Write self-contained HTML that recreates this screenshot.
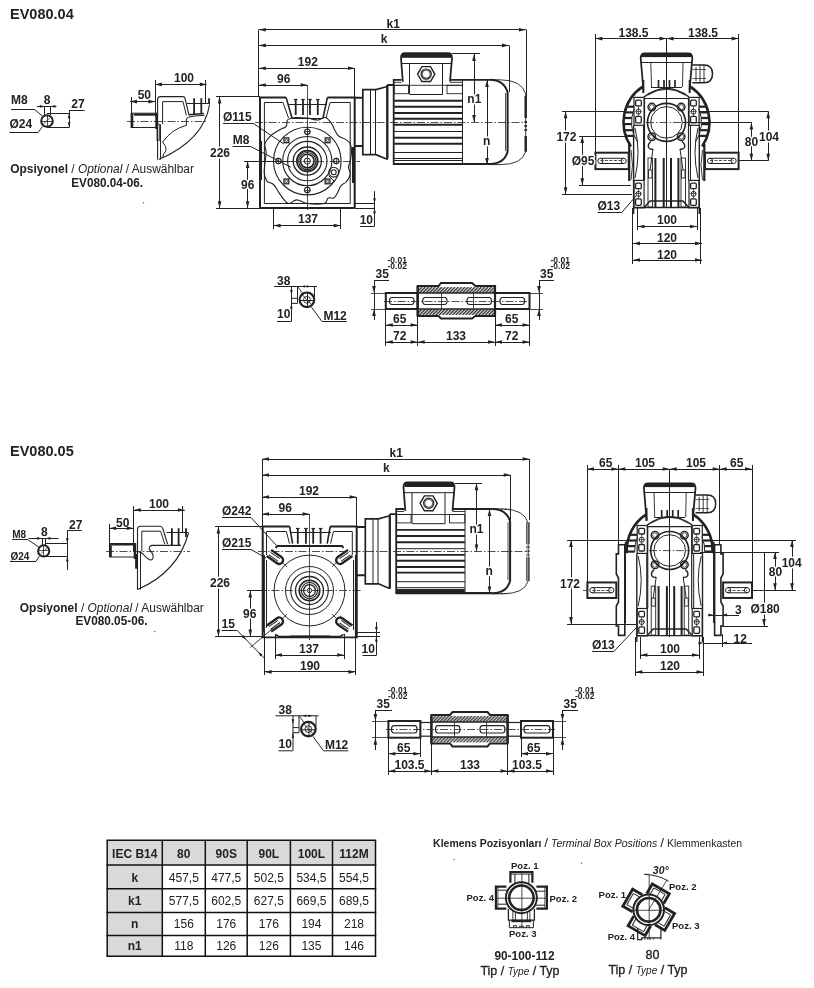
<!DOCTYPE html><html><head><meta charset="utf-8"><style>html,body{margin:0;padding:0;background:#fff;width:814px;height:988px;overflow:hidden}svg{display:block;will-change:transform}text{font-family:"Liberation Sans",sans-serif;fill:#222}</style></head><body>
<svg width="814" height="988" viewBox="0 0 814 988">
<text x="10" y="19" font-size="14.5" font-weight="bold" font-style="normal" text-anchor="start" >EV080.04</text>
<text x="10" y="455.8" font-size="14.5" font-weight="bold" font-style="normal" text-anchor="start" >EV080.05</text>
<text x="11.1" y="104.4" font-size="12" font-weight="bold" font-style="normal" text-anchor="start" >M8</text>
<text x="43.8" y="104.4" font-size="12" font-weight="bold" font-style="normal" text-anchor="start" >8</text>
<text x="71.3" y="107.7" font-size="12" font-weight="bold" font-style="normal" text-anchor="start" >27</text>
<text x="9.4" y="128.1" font-size="12" font-weight="bold" font-style="normal" text-anchor="start" >Ø24</text>
<circle cx="47" cy="121" r="5.8" stroke="#222" stroke-width="2" fill="none" />
<line x1="42" y1="121.5" x2="52" y2="121.5" stroke="#222" stroke-width="0.8" />
<line x1="47.5" y1="115.5" x2="47.5" y2="126.5" stroke="#222" stroke-width="0.8" />
<line x1="43.5" y1="124" x2="50.5" y2="117.5" stroke="#222" stroke-width="0.7" />
<line x1="11.1" y1="109.5" x2="34.9" y2="109.5" stroke="#222" stroke-width="1" />
<line x1="34.9" y1="109.9" x2="43.1" y2="116.5" stroke="#222" stroke-width="1" />
<line x1="9.4" y1="132.5" x2="38.2" y2="132.5" stroke="#222" stroke-width="1" />
<line x1="38.2" y1="132.3" x2="42.6" y2="126.5" stroke="#222" stroke-width="1" />
<line x1="37" y1="106.5" x2="56.4" y2="106.5" stroke="#222" stroke-width="1" />
<path d="M44.80,106.40 L39.80,107.80 L39.80,105.00 Z" fill="#222"/>
<path d="M50.30,106.40 L55.30,105.00 L55.30,107.80 Z" fill="#222"/>
<line x1="44.5" y1="106.4" x2="44.5" y2="115" stroke="#222" stroke-width="1" />
<line x1="50.5" y1="106.4" x2="50.5" y2="115" stroke="#222" stroke-width="1" />
<line x1="47" y1="113.5" x2="69.1" y2="113.5" stroke="#222" stroke-width="1" />
<line x1="47" y1="127.5" x2="69.1" y2="127.5" stroke="#222" stroke-width="1" />
<line x1="69.1" y1="110.5" x2="84.6" y2="110.5" stroke="#222" stroke-width="1" />
<line x1="69.5" y1="110.2" x2="69.5" y2="127.6" stroke="#222" stroke-width="1" />
<path d="M69.10,113.20 L70.50,118.20 L67.70,118.20 Z" fill="#222"/>
<path d="M69.10,127.30 L67.70,122.30 L70.50,122.30 Z" fill="#222"/>
<text x="174" y="81.8" font-size="12" font-weight="bold" font-style="normal" text-anchor="start" >100</text>
<text x="137.7" y="98.7" font-size="12" font-weight="bold" font-style="normal" text-anchor="start" >50</text>
<line x1="154.9" y1="84.5" x2="206.8" y2="84.5" stroke="#222" stroke-width="1" />
<path d="M154.90,84.40 L161.90,82.60 L161.90,86.20 Z" fill="#222"/>
<path d="M206.80,84.40 L199.80,86.20 L199.80,82.60 Z" fill="#222"/>
<line x1="130" y1="101.5" x2="155.4" y2="101.5" stroke="#222" stroke-width="1" />
<path d="M130.00,101.60 L137.00,99.80 L137.00,103.40 Z" fill="#222"/>
<path d="M155.40,101.60 L148.40,103.40 L148.40,99.80 Z" fill="#222"/>
<line x1="155.5" y1="80" x2="155.5" y2="117" stroke="#222" stroke-width="1.0" />
<line x1="205.5" y1="80" x2="205.5" y2="104" stroke="#222" stroke-width="1.0" />
<line x1="131.5" y1="97" x2="131.5" y2="115" stroke="#222" stroke-width="1.0" />
<rect x="131.1" y="113.2" width="25.4" height="14.3" stroke="#222" stroke-width="1" fill="none" />
<line x1="134" y1="114.6" x2="155" y2="114.6" stroke="#222" stroke-width="2.2" />
<line x1="132.2" y1="113.5" x2="132.2" y2="127.5" stroke="#222" stroke-width="2.2" />
<line x1="156.5" y1="113" x2="156.5" y2="129" stroke="#222" stroke-width="2.4" />
<line x1="127" y1="121.5" x2="206" y2="121.5" stroke="#222" stroke-width="0.8" stroke-dasharray="8,2,1.5,2"/>
<path d="M157.6,159.6 L157.6,99.6 Q157.6,96.6 160.6,96.6 L183.2,96.6 Q184.5,96.6 185,98.5 L189.1,115.4" stroke="#222" stroke-width="1.1" fill="none" />
<path d="M162.6,124 L162.6,101.6 L183,101.6 L186.4,115.4" stroke="#222" stroke-width="1.0" fill="none" />
<path d="M209.6,104.3 Q204,140 158.7,159.6" stroke="#222" stroke-width="1.1" fill="none" />
<path d="M204.6,115.4 Q195,115.5 189,117 Q186.4,118 186.4,119 L186.4,125.3 Q172,129 162.6,142 Q167,147 166,150.8 Q163,154 162.6,157.4" stroke="#222" stroke-width="1.0" fill="none" />
<line x1="194.1" y1="98.2" x2="194.1" y2="114.3" stroke="#222" stroke-width="1.8" />
<line x1="201.3" y1="98.2" x2="201.3" y2="114.3" stroke="#222" stroke-width="1.8" />
<line x1="209" y1="98.2" x2="209" y2="104" stroke="#222" stroke-width="1.8" />
<line x1="187" y1="103.5" x2="209" y2="103.5" stroke="#222" stroke-width="1.0" />
<line x1="189" y1="114.8" x2="204" y2="113.5" stroke="#222" stroke-width="1.6" />
<rect x="157" y="124.2" width="2.3" height="16.1" stroke="#222" stroke-width="0.9" fill="none" />
<line x1="160.5" y1="124.2" x2="160.5" y2="159.6" stroke="#222" stroke-width="1.0" />
<text x="10.3" y="173" font-size="12.3" font-weight="normal" font-style="normal" text-anchor="start" textLength="183.7" lengthAdjust="spacingAndGlyphs"><tspan font-weight="bold">Opsiyonel</tspan> / <tspan font-style="italic">Optional</tspan> / Auswählbar</text>
<text x="71.3" y="187" font-size="12" font-weight="bold" font-style="normal" text-anchor="start" textLength="71.7" lengthAdjust="spacingAndGlyphs">EV080.04-06.</text>
<text x="386.5" y="28" font-size="12" font-weight="bold" font-style="normal" text-anchor="start" >k1</text>
<text x="380.7" y="43" font-size="12" font-weight="bold" font-style="normal" text-anchor="start" >k</text>
<text x="297.8" y="66" font-size="12" font-weight="bold" font-style="normal" text-anchor="start" >192</text>
<text x="277" y="82.7" font-size="12" font-weight="bold" font-style="normal" text-anchor="start" >96</text>
<line x1="258.8" y1="29.5" x2="526" y2="29.5" stroke="#222" stroke-width="1" />
<path d="M258.80,29.70 L265.80,27.90 L265.80,31.50 Z" fill="#222"/>
<path d="M526.00,29.70 L519.00,31.50 L519.00,27.90 Z" fill="#222"/>
<line x1="258.8" y1="45.5" x2="509" y2="45.5" stroke="#222" stroke-width="1" />
<path d="M258.80,45.40 L265.80,43.60 L265.80,47.20 Z" fill="#222"/>
<path d="M509.00,45.40 L502.00,47.20 L502.00,43.60 Z" fill="#222"/>
<line x1="258.8" y1="68.5" x2="355" y2="68.5" stroke="#222" stroke-width="1" />
<path d="M258.80,68.20 L265.80,66.40 L265.80,70.00 Z" fill="#222"/>
<path d="M355.00,68.20 L348.00,70.00 L348.00,66.40 Z" fill="#222"/>
<line x1="258.8" y1="85.5" x2="307.6" y2="85.5" stroke="#222" stroke-width="1" />
<path d="M258.80,85.00 L265.80,83.20 L265.80,86.80 Z" fill="#222"/>
<path d="M307.60,85.00 L300.60,86.80 L300.60,83.20 Z" fill="#222"/>
<line x1="258.5" y1="29.7" x2="258.5" y2="97" stroke="#222" stroke-width="1" />
<line x1="526.5" y1="29.7" x2="526.5" y2="96" stroke="#222" stroke-width="1" />
<line x1="509.5" y1="45.4" x2="509.5" y2="92" stroke="#222" stroke-width="1" />
<line x1="354.5" y1="68.2" x2="354.5" y2="97" stroke="#222" stroke-width="1" />
<line x1="307.5" y1="85" x2="307.5" y2="210" stroke="#222" stroke-width="0.8" />
<line x1="219.5" y1="96.4" x2="219.5" y2="208.3" stroke="#222" stroke-width="1" />
<path d="M219.60,96.40 L221.40,103.40 L217.80,103.40 Z" fill="#222"/>
<path d="M219.60,208.30 L217.80,201.30 L221.40,201.30 Z" fill="#222"/>
<line x1="216" y1="96.5" x2="260" y2="96.5" stroke="#222" stroke-width="1" />
<line x1="216" y1="208.5" x2="260" y2="208.5" stroke="#222" stroke-width="1" />
<line x1="247.5" y1="160.9" x2="247.5" y2="208.3" stroke="#222" stroke-width="1" />
<path d="M247.60,160.90 L249.40,167.90 L245.80,167.90 Z" fill="#222"/>
<path d="M247.60,208.30 L245.80,201.30 L249.40,201.30 Z" fill="#222"/>
<line x1="244" y1="161.5" x2="290" y2="161.5" stroke="#222" stroke-width="1.0" />
<text x="223" y="120.5" font-size="12" font-weight="bold" font-style="normal" text-anchor="start" >Ø115</text>
<line x1="223" y1="123.5" x2="253" y2="123.5" stroke="#222" stroke-width="1" />
<line x1="253" y1="123.3" x2="283.7" y2="143.9" stroke="#222" stroke-width="1" />
<text x="232.7" y="143.6" font-size="12" font-weight="bold" font-style="normal" text-anchor="start" >M8</text>
<line x1="232.7" y1="146.5" x2="250.5" y2="146.5" stroke="#222" stroke-width="1" />
<line x1="250.5" y1="146.4" x2="290.8" y2="167.2" stroke="#222" stroke-width="1" />
<text x="298" y="223.4" font-size="12" font-weight="bold" font-style="normal" text-anchor="start" >137</text>
<line x1="273.6" y1="225.5" x2="340.7" y2="225.5" stroke="#222" stroke-width="1" />
<path d="M273.60,225.60 L280.60,223.80 L280.60,227.40 Z" fill="#222"/>
<path d="M340.70,225.60 L333.70,227.40 L333.70,223.80 Z" fill="#222"/>
<line x1="273.5" y1="208" x2="273.5" y2="229" stroke="#222" stroke-width="1" />
<line x1="340.5" y1="208" x2="340.5" y2="229" stroke="#222" stroke-width="1" />
<text x="359.7" y="223.9" font-size="12" font-weight="bold" font-style="normal" text-anchor="start" >10</text>
<line x1="360" y1="226.5" x2="374.5" y2="226.5" stroke="#222" stroke-width="1" />
<line x1="374.5" y1="191.2" x2="374.5" y2="226.4" stroke="#222" stroke-width="1" />
<path d="M374.50,203.20 L373.10,198.20 L375.90,198.20 Z" fill="#222"/>
<path d="M374.50,208.20 L375.90,213.20 L373.10,213.20 Z" fill="#222"/>
<line x1="355" y1="203.5" x2="374.5" y2="203.5" stroke="#222" stroke-width="1" />
<line x1="355" y1="208.5" x2="374.5" y2="208.5" stroke="#222" stroke-width="1" />
<path d="M260,208 L260,97.4 L286.1,97.4 M327.4,97.4 L354.7,97.4 L354.7,208" stroke="#222" stroke-width="2" fill="none" />
<path d="M260,208 L354.7,208" stroke="#222" stroke-width="2.2" fill="none" />
<path d="M286.1,97.4 L292,118 M327.4,97.4 L323,118" stroke="#222" stroke-width="1.6" fill="none" />
<path d="M283,102.5 L288.5,118 M330,102.5 L326,118" stroke="#222" stroke-width="1.0" fill="none" />
<path d="M264.4,203.5 L264.4,102.5 L283,102.5 M330,102.5 L350.2,102.5 L350.2,203.5 L264.4,203.5" stroke="#222" stroke-width="1.0" fill="none" />
<line x1="295.7" y1="99" x2="295.7" y2="115" stroke="#222" stroke-width="1.8" />
<line x1="293.9" y1="99.5" x2="297.5" y2="99.5" stroke="#222" stroke-width="1.2" />
<line x1="303" y1="99" x2="303" y2="115" stroke="#222" stroke-width="1.8" />
<line x1="301.2" y1="99.5" x2="304.8" y2="99.5" stroke="#222" stroke-width="1.2" />
<line x1="310" y1="99" x2="310" y2="115" stroke="#222" stroke-width="1.8" />
<line x1="308.2" y1="99.5" x2="311.8" y2="99.5" stroke="#222" stroke-width="1.2" />
<line x1="317.8" y1="99" x2="317.8" y2="115" stroke="#222" stroke-width="1.8" />
<line x1="316.0" y1="99.5" x2="319.6" y2="99.5" stroke="#222" stroke-width="1.2" />
<line x1="288" y1="104.5" x2="327" y2="104.5" stroke="#222" stroke-width="1.2" />
<line x1="292" y1="118.5" x2="323" y2="118.5" stroke="#222" stroke-width="1.0" />
<line x1="255" y1="122.5" x2="527" y2="122.5" stroke="#222" stroke-width="0.8" stroke-dasharray="8,2,1.5,2"/>
<line x1="262" y1="161.5" x2="360" y2="161.5" stroke="#222" stroke-width="0.8" stroke-dasharray="8,2,1.5,2"/>
<circle cx="307.3" cy="161.1" r="33.8" stroke="#222" stroke-width="1.1" fill="none" />
<circle cx="307.3" cy="161.1" r="24.6" stroke="#222" stroke-width="1.1" fill="none" />
<circle cx="307.3" cy="161.1" r="19.7" stroke="#222" stroke-width="1.1" fill="none" />
<circle cx="307.3" cy="161.1" r="14.1" stroke="#222" stroke-width="1.3" fill="none" />
<circle cx="307.3" cy="161.1" r="10.4" stroke="#222" stroke-width="1.8" fill="none" />
<circle cx="307.3" cy="161.1" r="8.6" stroke="#222" stroke-width="1.1" fill="none" />
<circle cx="307.3" cy="161.1" r="6.8" stroke="#222" stroke-width="1.6" fill="none" />
<circle cx="307.3" cy="161.1" r="3.1" stroke="#222" stroke-width="1" fill="none" />
<circle cx="307.3" cy="131.7" r="2.7" stroke="#222" stroke-width="1.1" fill="none" />
<line x1="303.8" y1="131.5" x2="310.8" y2="131.5" stroke="#222" stroke-width="0.7" />
<line x1="307.5" y1="128.2" x2="307.5" y2="135.2" stroke="#222" stroke-width="0.7" />
<circle cx="278.4" cy="161.1" r="2.7" stroke="#222" stroke-width="1.1" fill="none" />
<line x1="274.9" y1="161.5" x2="281.9" y2="161.5" stroke="#222" stroke-width="0.7" />
<line x1="278.5" y1="157.6" x2="278.5" y2="164.6" stroke="#222" stroke-width="0.7" />
<circle cx="336.2" cy="161.1" r="2.7" stroke="#222" stroke-width="1.1" fill="none" />
<line x1="332.7" y1="161.5" x2="339.7" y2="161.5" stroke="#222" stroke-width="0.7" />
<line x1="336.5" y1="157.6" x2="336.5" y2="164.6" stroke="#222" stroke-width="0.7" />
<circle cx="307.3" cy="190" r="2.7" stroke="#222" stroke-width="1.1" fill="none" />
<line x1="303.8" y1="190.5" x2="310.8" y2="190.5" stroke="#222" stroke-width="0.7" />
<line x1="307.5" y1="186.5" x2="307.5" y2="193.5" stroke="#222" stroke-width="0.7" />
<rect x="284.0" y="137.9" width="4.8" height="4.8" stroke="#222" stroke-width="1.3" fill="none" />
<circle cx="286.4" cy="140.3" r="1.2" stroke="#222" stroke-width="0.8" fill="none" />
<rect x="325.20000000000005" y="137.9" width="4.8" height="4.8" stroke="#222" stroke-width="1.3" fill="none" />
<circle cx="327.6" cy="140.3" r="1.2" stroke="#222" stroke-width="0.8" fill="none" />
<rect x="284.0" y="179.0" width="4.8" height="4.8" stroke="#222" stroke-width="1.3" fill="none" />
<circle cx="286.4" cy="181.4" r="1.2" stroke="#222" stroke-width="0.8" fill="none" />
<rect x="325.20000000000005" y="179.0" width="4.8" height="4.8" stroke="#222" stroke-width="1.3" fill="none" />
<circle cx="327.6" cy="181.4" r="1.2" stroke="#222" stroke-width="0.8" fill="none" />
<circle cx="333.7" cy="172.2" r="4.9" stroke="#222" stroke-width="1.1" fill="none" />
<circle cx="333.7" cy="172.2" r="2.5" stroke="#222" stroke-width="1.1" fill="none" />
<path d="M328.5,175.5 L334,181 L331,184" stroke="#222" stroke-width="1" fill="none" />
<path d="M288.26,119.37 C289.98,118.51 291.82,117.78 295.63,117.53 C299.44,117.28 302.88,117.65 307.30,118.14 C311.72,118.63 314.18,120.11 317.74,119.99 C321.30,119.87 322.41,116.92 325.11,117.53 C327.81,118.14 329.28,120.48 331.25,123.06 C333.22,125.64 333.47,127.85 334.94,130.43 C336.41,133.01 336.41,134.12 338.62,135.96 C340.83,137.80 343.67,138.04 346.00,139.64 C348.33,141.24 349.19,141.61 350.29,143.94 C351.39,146.27 351.52,147.87 351.52,151.31 C351.52,154.75 350.90,157.95 350.29,161.14 C349.68,164.33 348.45,164.58 348.45,167.28 C348.45,169.98 350.78,171.70 350.29,174.65 C349.80,177.60 347.84,179.81 346.00,182.02 C344.16,184.23 342.80,183.50 341.08,185.71 C339.36,187.92 338.87,190.62 337.40,193.08 C335.93,195.54 335.55,197.02 333.71,198.00 C331.87,198.98 330.15,196.90 328.18,198.00 C326.21,199.10 328.06,202.42 323.88,203.52 C319.70,204.62 312.70,204.26 307.30,203.52 C301.90,202.78 300.42,199.84 296.86,199.84 C293.30,199.84 291.94,203.40 289.48,203.52 C287.02,203.64 286.78,202.78 284.57,200.45 C282.36,198.12 280.64,195.04 278.43,191.85 C276.22,188.66 275.84,186.69 273.51,184.48 C271.18,182.27 268.60,183.01 266.76,180.80 C264.92,178.59 264.67,176.87 264.30,173.43 C263.93,169.99 264.54,167.78 264.91,163.60 C265.28,159.42 266.14,156.47 266.14,152.54 C266.14,148.61 264.17,147.13 264.91,143.94 C265.65,140.75 267.13,139.27 269.83,136.57 C272.53,133.87 275.24,132.40 278.43,130.43 C281.62,128.46 284.08,128.46 285.80,126.74 C287.52,125.02 286.54,123.30 287.03,121.83 C287.52,120.36 286.54,120.23 288.26,119.37 Z" stroke="#222" stroke-width="1.1" fill="none" />
<line x1="261" y1="141" x2="261" y2="180" stroke="#222" stroke-width="2" />
<line x1="353" y1="147" x2="353" y2="183" stroke="#222" stroke-width="2" />
<g transform="translate(0,0)">
<path d="M354.5,97.75 L362.8,97.75 M354.5,146 L362.8,146" stroke="#222" stroke-width="2" fill="none" />
<path d="M362.8,89.6 L376,89.6 L386.4,86.8 L387.3,86.8 L387.3,159 L386.4,159 L376,154.6 L362.8,154.6 Z" stroke="#222" stroke-width="1.7" fill="none" />
<line x1="370.5" y1="89.6" x2="370.5" y2="154.6" stroke="#222" stroke-width="1.0" />
<line x1="375.5" y1="89.6" x2="375.5" y2="154.6" stroke="#222" stroke-width="1.0" />
<line x1="387.3" y1="85" x2="387.3" y2="158.5" stroke="#222" stroke-width="2.2" />
<path d="M387.3,85 L393.7,85 L393.7,79.8 L401.5,79.8 M450,79.8 L490,79.8 M393.7,85 L393.7,164 L490,164" stroke="#222" stroke-width="1.8" fill="none" />
<line x1="393.7" y1="164" x2="490" y2="164" stroke="#222" stroke-width="2.2" />
<line x1="462.5" y1="80" x2="462.5" y2="164" stroke="#222" stroke-width="1" />
<line x1="394.2" y1="100.7" x2="462.4" y2="100.7" stroke="#222" stroke-width="1.9" />
<line x1="394.2" y1="106.8" x2="462.4" y2="106.8" stroke="#222" stroke-width="1.9" />
<line x1="394.2" y1="113" x2="462.4" y2="113" stroke="#222" stroke-width="1.9" />
<line x1="394.2" y1="118.8" x2="462.4" y2="118.8" stroke="#222" stroke-width="1.9" />
<line x1="394.2" y1="124.7" x2="462.4" y2="124.7" stroke="#222" stroke-width="1.9" />
<line x1="394.2" y1="137.8" x2="462.4" y2="137.8" stroke="#222" stroke-width="1.9" />
<line x1="394.2" y1="143.7" x2="462.4" y2="143.7" stroke="#222" stroke-width="1.9" />
<line x1="394.2" y1="131.5" x2="462.4" y2="131.5" stroke="#222" stroke-width="1.0" />
<path d="M394.2,85.3 L462.4,85.3 M394.2,82.3 L401.5,82.3 M450,82.3 L462.4,82.3" stroke="#222" stroke-width="0.9" fill="none" />
<rect x="394.2" y="85.3" width="14.3" height="8.4" stroke="#222" stroke-width="0.9" fill="none" />
<rect x="447" y="85.3" width="15.4" height="8.4" stroke="#222" stroke-width="0.9" fill="none" />
<line x1="394.2" y1="152.5" x2="462.4" y2="152.5" stroke="#222" stroke-width="1.0" />
<line x1="394.2" y1="158.5" x2="462.4" y2="158.5" stroke="#222" stroke-width="1.0" />
<line x1="394.2" y1="160.5" x2="462.4" y2="160.5" stroke="#222" stroke-width="1.0" />
<path d="M490,79.8 Q504,80 507.6,92.3 L507.6,151.8 Q504,164 490,164" stroke="#222" stroke-width="2" fill="none" />
<line x1="505.5" y1="93" x2="505.5" y2="151" stroke="#222" stroke-width="0.8" />
<path d="M490,79.8 L500,79.8 Q522,80 525.7,94 L525.7,151.8 Q522,164.6 500,164.6 L490,164.6" stroke="#222" stroke-width="0.9" fill="none" />
<path d="M525.7,96 L525.7,118 M525.7,136 L525.7,151.8" stroke="#222" stroke-width="2.4" fill="none" />
<path d="M525.7,121 L525.7,123 M525.7,125 L525.7,127 M525.7,129 L525.7,131" stroke="#222" stroke-width="2.4" fill="none" />
<path d="M402.8,81.7 L401,58 Q401,53.2 405,53.2 L448,53.2 Q452,53.2 452,58 L450,81.7" stroke="#222" stroke-width="1.8" fill="none" />
<rect x="402" y="53.5" width="49.5" height="4.3" stroke="#222" stroke-width="0" fill="#222" />
<line x1="401.5" y1="63.5" x2="451.5" y2="63.5" stroke="#222" stroke-width="1.0" />
<line x1="409.5" y1="63.4" x2="409.5" y2="94.4" stroke="#222" stroke-width="1.0" />
<line x1="442.5" y1="63.4" x2="442.5" y2="94.4" stroke="#222" stroke-width="1.0" />
<line x1="409.7" y1="94.5" x2="442.7" y2="94.5" stroke="#222" stroke-width="1.0" />
<polygon points="434.80,74.10 430.50,81.55 421.90,81.55 417.60,74.10 421.90,66.65 430.50,66.65" stroke="#222" stroke-width="1.4" fill="none"/>
<circle cx="426.2" cy="74.1" r="5.1" stroke="#222" stroke-width="1.2" fill="none" />
<circle cx="426.2" cy="74.1" r="4.0" stroke="#222" stroke-width="0.8" fill="none" />
</g>
<line x1="452" y1="53.5" x2="480" y2="53.5" stroke="#222" stroke-width="1" />
<line x1="474.5" y1="54" x2="474.5" y2="122" stroke="#222" stroke-width="1" />
<path d="M474.00,54.00 L475.80,61.00 L472.20,61.00 Z" fill="#222"/>
<path d="M474.00,122.00 L472.20,115.00 L475.80,115.00 Z" fill="#222"/>
<line x1="487.5" y1="80" x2="487.5" y2="165" stroke="#222" stroke-width="1" />
<path d="M487.00,80.00 L488.80,87.00 L485.20,87.00 Z" fill="#222"/>
<path d="M487.00,165.00 L485.20,158.00 L488.80,158.00 Z" fill="#222"/>
<text x="618.5" y="37" font-size="12" font-weight="bold" font-style="normal" text-anchor="start" >138.5</text>
<text x="688" y="37" font-size="12" font-weight="bold" font-style="normal" text-anchor="start" >138.5</text>
<line x1="595.4" y1="38.5" x2="666.5" y2="38.5" stroke="#222" stroke-width="1" />
<path d="M595.40,38.60 L602.40,36.80 L602.40,40.40 Z" fill="#222"/>
<path d="M666.50,38.60 L659.50,40.40 L659.50,36.80 Z" fill="#222"/>
<line x1="666.5" y1="38.5" x2="738.6" y2="38.5" stroke="#222" stroke-width="1" />
<path d="M666.50,38.60 L673.50,36.80 L673.50,40.40 Z" fill="#222"/>
<path d="M738.60,38.60 L731.60,40.40 L731.60,36.80 Z" fill="#222"/>
<line x1="595.5" y1="34" x2="595.5" y2="153" stroke="#222" stroke-width="1" />
<line x1="738.5" y1="34" x2="738.5" y2="153" stroke="#222" stroke-width="1" />
<line x1="666.5" y1="38.6" x2="666.5" y2="207.5" stroke="#222" stroke-width="1" />
<g transform="translate(0,0)">
<g transform="translate(0,0)">
<path d="M643.4,90 L640.7,58 Q640.7,53.3 645,53.3 L688,53.3 Q692.3,53.3 692.3,58 L689.6,90" stroke="#222" stroke-width="1.8" fill="none" />
<rect x="641.5" y="53.3" width="50" height="3.8" stroke="#222" stroke-width="0" fill="#222" />
<line x1="640.7" y1="62.5" x2="692.3" y2="62.5" stroke="#222" stroke-width="1.0" />
<line x1="650.8" y1="62.5" x2="651.5" y2="87" stroke="#222" stroke-width="0.9" />
<line x1="683" y1="62.5" x2="682.5" y2="87" stroke="#222" stroke-width="0.9" />
<line x1="658.5" y1="80" x2="658.5" y2="87.5" stroke="#222" stroke-width="1.7" />
<line x1="664" y1="80" x2="664" y2="87.5" stroke="#222" stroke-width="1.7" />
<line x1="669.5" y1="80" x2="669.5" y2="87.5" stroke="#222" stroke-width="1.7" />
<line x1="675" y1="80" x2="675" y2="87.5" stroke="#222" stroke-width="1.7" />
<line x1="651" y1="87.5" x2="682" y2="87.5" stroke="#222" stroke-width="1.0" />
<path d="M692.3,65 L704,65 Q712.5,65 712.5,73.8 Q712.5,82.8 704,82.8 L692.3,82.8" stroke="#222" stroke-width="1.5" fill="none" />
<path d="M696,67 L696,81 M700,65.5 L700,82.5 M704,65 L704,82.8" stroke="#222" stroke-width="0.9" fill="none" />
<line x1="692.3" y1="69.5" x2="706" y2="69.5" stroke="#222" stroke-width="0.7" />
<line x1="692.3" y1="78.5" x2="706" y2="78.5" stroke="#222" stroke-width="0.7" />
</g>
<path d="M643.08,86.34 A43,43 0 0 0 630.85,146.45" stroke="#222" stroke-width="2.6" fill="none" />
<path d="M634.28,108.72 A35,35 0 0 0 637.48,141.97" stroke="#222" stroke-width="1.0" fill="none" />
<line x1="634" y1="106.7" x2="626.4686372952406" y2="106.7" stroke="#222" stroke-width="2.2" />
<line x1="632.9589803375031" y1="112.4" x2="624.6789526673471" y2="112.4" stroke="#222" stroke-width="2.2" />
<line x1="631.7776728890473" y1="118" x2="623.7257086557825" y2="118" stroke="#222" stroke-width="2.2" />
<line x1="631.5413100931971" y1="124.1" x2="623.5336177925113" y2="124.1" stroke="#222" stroke-width="2.2" />
<line x1="632.3802110205822" y1="130.2" x2="624.2133590835119" y2="130.2" stroke="#222" stroke-width="2.2" />
<line x1="634" y1="135.9" x2="625.674150345645" y2="135.9" stroke="#222" stroke-width="2.2" />
<path d="M689.92,86.34 A43,43 0 0 1 702.15,146.45" stroke="#222" stroke-width="2.6" fill="none" />
<path d="M698.72,108.72 A35,35 0 0 1 695.52,141.97" stroke="#222" stroke-width="1.0" fill="none" />
<line x1="699" y1="106.7" x2="706.5313627047594" y2="106.7" stroke="#222" stroke-width="2.2" />
<line x1="700.0410196624969" y1="112.4" x2="708.3210473326529" y2="112.4" stroke="#222" stroke-width="2.2" />
<line x1="701.2223271109527" y1="118" x2="709.2742913442175" y2="118" stroke="#222" stroke-width="2.2" />
<line x1="701.4586899068029" y1="124.1" x2="709.4663822074887" y2="124.1" stroke="#222" stroke-width="2.2" />
<line x1="700.6197889794178" y1="130.2" x2="708.7866409164881" y2="130.2" stroke="#222" stroke-width="2.2" />
<line x1="699" y1="135.9" x2="707.325849654355" y2="135.9" stroke="#222" stroke-width="2.2" />
<path d="M644,97 Q666.5,80 689,97" stroke="#222" stroke-width="1.4" fill="none" />
<path d="M648,95 Q666.5,83.5 685,95" stroke="#222" stroke-width="0.8" fill="none" />
<line x1="643.3" y1="80" x2="643.3" y2="93" stroke="#222" stroke-width="2" />
<line x1="689.7" y1="80" x2="689.7" y2="93" stroke="#222" stroke-width="2" />
<line x1="644.6" y1="98.5" x2="688.4" y2="98.5" stroke="#222" stroke-width="1.2" />
<line x1="644.5" y1="98.2" x2="644.5" y2="180.4" stroke="#222" stroke-width="1.2" />
<line x1="688.5" y1="98.2" x2="688.5" y2="180.4" stroke="#222" stroke-width="1.2" />
<circle cx="666.5" cy="122.4" r="19" stroke="#222" stroke-width="1.6" fill="none" />
<circle cx="666.5" cy="122.4" r="15.8" stroke="#222" stroke-width="1.0" fill="none" />
<line x1="646" y1="122.5" x2="687" y2="122.5" stroke="#222" stroke-width="0.8" stroke-dasharray="8,2,1.5,2"/>
<circle cx="651.8" cy="107.1" r="3.8" stroke="#222" stroke-width="1.4" fill="none" />
<circle cx="651.8" cy="107.1" r="2.4" stroke="#222" stroke-width="0.8" fill="none" />
<circle cx="681.2" cy="107.1" r="3.8" stroke="#222" stroke-width="1.4" fill="none" />
<circle cx="681.2" cy="107.1" r="2.4" stroke="#222" stroke-width="0.8" fill="none" />
<circle cx="651.8" cy="136.7" r="3.8" stroke="#222" stroke-width="1.4" fill="none" />
<circle cx="651.8" cy="136.7" r="2.4" stroke="#222" stroke-width="0.8" fill="none" />
<circle cx="681.2" cy="136.7" r="3.8" stroke="#222" stroke-width="1.4" fill="none" />
<circle cx="681.2" cy="136.7" r="2.4" stroke="#222" stroke-width="0.8" fill="none" />
<path d="M651,141.5 Q647.5,144 648.5,147.5 Q650,150 653,149" stroke="#222" stroke-width="1.4" fill="none" />
<path d="M682,141.5 Q685.5,144 684.5,147.5 Q683,150 680,149" stroke="#222" stroke-width="1.4" fill="none" />
<line x1="653" y1="149" x2="650" y2="170" stroke="#222" stroke-width="1" />
<line x1="680" y1="149" x2="683" y2="170" stroke="#222" stroke-width="1" />
<rect x="634.0" y="97.4" width="10.1" height="27.9" stroke="#222" stroke-width="1.2" fill="none" />
<rect x="635.6" y="100.2" width="5.7" height="5.7" stroke="#222" stroke-width="1.3" fill="none" rx="1.2"/>
<rect x="635.6" y="116.4" width="5.7" height="6.5" stroke="#222" stroke-width="1.3" fill="none" rx="1.2"/>
<circle cx="638.5" cy="111.6" r="2.5" stroke="#222" stroke-width="1" fill="none" />
<line x1="635.5" y1="111.5" x2="641.5" y2="111.5" stroke="#222" stroke-width="0.7" />
<line x1="638.5" y1="106" x2="638.5" y2="116.4" stroke="#222" stroke-width="0.7" />
<rect x="634.0" y="180.4" width="10.1" height="27.4" stroke="#222" stroke-width="1.2" fill="none" />
<rect x="635.6" y="183.2" width="5.7" height="5.5" stroke="#222" stroke-width="1.3" fill="none" rx="1.2"/>
<rect x="635.6" y="198.8" width="5.7" height="6.5" stroke="#222" stroke-width="1.3" fill="none" rx="1.2"/>
<circle cx="638.5" cy="193.9" r="2.5" stroke="#222" stroke-width="1" fill="none" />
<line x1="635.5" y1="193.5" x2="641.5" y2="193.5" stroke="#222" stroke-width="0.7" />
<line x1="638.5" y1="188.7" x2="638.5" y2="198.8" stroke="#222" stroke-width="0.7" />
<rect x="689.0" y="97.4" width="10.1" height="27.9" stroke="#222" stroke-width="1.2" fill="none" />
<rect x="690.6" y="100.2" width="5.7" height="5.7" stroke="#222" stroke-width="1.3" fill="none" rx="1.2"/>
<rect x="690.6" y="116.4" width="5.7" height="6.5" stroke="#222" stroke-width="1.3" fill="none" rx="1.2"/>
<circle cx="693.5" cy="111.6" r="2.5" stroke="#222" stroke-width="1" fill="none" />
<line x1="690.5" y1="111.5" x2="696.5" y2="111.5" stroke="#222" stroke-width="0.7" />
<line x1="693.5" y1="106" x2="693.5" y2="116.4" stroke="#222" stroke-width="0.7" />
<rect x="689.0" y="180.4" width="10.1" height="27.4" stroke="#222" stroke-width="1.2" fill="none" />
<rect x="690.6" y="183.2" width="5.7" height="5.5" stroke="#222" stroke-width="1.3" fill="none" rx="1.2"/>
<rect x="690.6" y="198.8" width="5.7" height="6.5" stroke="#222" stroke-width="1.3" fill="none" rx="1.2"/>
<circle cx="693.5" cy="193.9" r="2.5" stroke="#222" stroke-width="1" fill="none" />
<line x1="690.5" y1="193.5" x2="696.5" y2="193.5" stroke="#222" stroke-width="0.7" />
<line x1="693.5" y1="188.7" x2="693.5" y2="198.8" stroke="#222" stroke-width="0.7" />
<line x1="633.6" y1="125.3" x2="633.6" y2="214" stroke="#222" stroke-width="1.4" />
<line x1="699.3" y1="125.3" x2="699.3" y2="214" stroke="#222" stroke-width="1.4" />
<line x1="643.5" y1="125.3" x2="643.5" y2="180.4" stroke="#222" stroke-width="1.0" />
<line x1="690.5" y1="125.3" x2="690.5" y2="180.4" stroke="#222" stroke-width="1.0" />
<path d="M635,128 Q641,152 635,178" stroke="#222" stroke-width="1.0" fill="none" />
<path d="M698,128 Q692,152 698,178" stroke="#222" stroke-width="1.0" fill="none" />
<line x1="655.4" y1="158" x2="655.4" y2="207" stroke="#222" stroke-width="2.0" />
<line x1="663.7" y1="158" x2="663.7" y2="207" stroke="#222" stroke-width="2.0" />
<line x1="671" y1="158" x2="671" y2="207" stroke="#222" stroke-width="2.0" />
<line x1="678.4" y1="158" x2="678.4" y2="207" stroke="#222" stroke-width="2.0" />
<rect x="648" y="158" width="4.5" height="49" stroke="#222" stroke-width="0.9" fill="none" />
<rect x="681" y="158" width="4.5" height="49" stroke="#222" stroke-width="0.9" fill="none" />
<rect x="648.5" y="170" width="3.5" height="8" stroke="#222" stroke-width="0.9" fill="none" />
<rect x="681.5" y="170" width="3.5" height="8" stroke="#222" stroke-width="0.9" fill="none" />
<path d="M644.1,207.5 L650,201 L683,201 L689,207.5" stroke="#222" stroke-width="1.5" fill="none" />
<line x1="633.6" y1="207.5" x2="699.3" y2="207.5" stroke="#222" stroke-width="1.4" />
</g>
<line x1="629.2" y1="144" x2="629.2" y2="181" stroke="#222" stroke-width="2.2" />
<line x1="704.3" y1="144" x2="704.3" y2="181" stroke="#222" stroke-width="2.2" />
<path d="M631,150 Q634,165 631,180" stroke="#222" stroke-width="0.9" fill="none" />
<path d="M702.5,150 Q699.5,165 702.5,180" stroke="#222" stroke-width="0.9" fill="none" />
<rect x="595.4" y="152.70000000000002" width="33.30000000000007" height="16.4" stroke="#222" stroke-width="2" fill="none" />
<path d="M600.4,158.3 L623.7,158.3 M600.4,163.5 L623.7,163.5" stroke="#222" stroke-width="1" fill="none" />
<circle cx="600.4" cy="160.9" r="2.6" stroke="#222" stroke-width="1" fill="none" />
<circle cx="623.7" cy="160.9" r="2.6" stroke="#222" stroke-width="1" fill="none" />
<line x1="600.4" y1="160.5" x2="623.7" y2="160.5" stroke="#222" stroke-width="0.8" stroke-dasharray="3,1.5"/>
<rect x="705" y="152.70000000000002" width="33.60000000000002" height="16.4" stroke="#222" stroke-width="2" fill="none" />
<path d="M710,158.3 L733.6,158.3 M710,163.5 L733.6,163.5" stroke="#222" stroke-width="1" fill="none" />
<circle cx="710" cy="160.9" r="2.6" stroke="#222" stroke-width="1" fill="none" />
<circle cx="733.6" cy="160.9" r="2.6" stroke="#222" stroke-width="1" fill="none" />
<line x1="710" y1="160.5" x2="733.6" y2="160.5" stroke="#222" stroke-width="0.8" stroke-dasharray="3,1.5"/>
<line x1="590" y1="160.5" x2="595.4" y2="160.5" stroke="#222" stroke-width="0.8" />
<line x1="738.6" y1="160.5" x2="742" y2="160.5" stroke="#222" stroke-width="0.8" />
<line x1="565.5" y1="111.3" x2="565.5" y2="194.2" stroke="#222" stroke-width="1" />
<path d="M565.60,111.30 L567.40,118.30 L563.80,118.30 Z" fill="#222"/>
<path d="M565.60,194.20 L563.80,187.20 L567.40,187.20 Z" fill="#222"/>
<line x1="562" y1="111.5" x2="625" y2="111.5" stroke="#222" stroke-width="1" />
<line x1="562" y1="194.5" x2="632" y2="194.5" stroke="#222" stroke-width="1" />
<line x1="582.5" y1="136" x2="582.5" y2="185.2" stroke="#222" stroke-width="1" />
<path d="M582.30,136.00 L584.10,143.00 L580.50,143.00 Z" fill="#222"/>
<path d="M582.30,185.20 L580.50,178.20 L584.10,178.20 Z" fill="#222"/>
<line x1="579" y1="136.5" x2="629" y2="136.5" stroke="#222" stroke-width="1" />
<line x1="579" y1="185.5" x2="631" y2="185.5" stroke="#222" stroke-width="1" />
<text x="597.5" y="210.4" font-size="12" font-weight="bold" font-style="normal" text-anchor="start" >Ø13</text>
<line x1="597.5" y1="212.5" x2="621.5" y2="212.5" stroke="#222" stroke-width="1" />
<line x1="621.5" y1="212.8" x2="636" y2="196" stroke="#222" stroke-width="1" />
<line x1="751.5" y1="122.4" x2="751.5" y2="160.8" stroke="#222" stroke-width="1" />
<path d="M751.40,122.40 L753.20,129.40 L749.60,129.40 Z" fill="#222"/>
<path d="M751.40,160.80 L749.60,153.80 L753.20,153.80 Z" fill="#222"/>
<line x1="768.5" y1="111.3" x2="768.5" y2="160.8" stroke="#222" stroke-width="1" />
<path d="M768.20,111.30 L770.00,118.30 L766.40,118.30 Z" fill="#222"/>
<path d="M768.20,160.80 L766.40,153.80 L770.00,153.80 Z" fill="#222"/>
<line x1="700" y1="111.5" x2="768.2" y2="111.5" stroke="#222" stroke-width="1" />
<line x1="683" y1="122.5" x2="751.4" y2="122.5" stroke="#222" stroke-width="1" />
<line x1="738.6" y1="160.5" x2="768.2" y2="160.5" stroke="#222" stroke-width="1" />
<text x="657" y="224" font-size="12" font-weight="bold" font-style="normal" text-anchor="start" >100</text>
<text x="657" y="242" font-size="12" font-weight="bold" font-style="normal" text-anchor="start" >120</text>
<text x="657" y="258.5" font-size="12" font-weight="bold" font-style="normal" text-anchor="start" >120</text>
<line x1="637.5" y1="226.5" x2="697" y2="226.5" stroke="#222" stroke-width="1" />
<path d="M637.50,226.50 L644.50,224.70 L644.50,228.30 Z" fill="#222"/>
<path d="M697.00,226.50 L690.00,228.30 L690.00,224.70 Z" fill="#222"/>
<line x1="633" y1="243.5" x2="702" y2="243.5" stroke="#222" stroke-width="1" />
<path d="M633.00,243.40 L640.00,241.60 L640.00,245.20 Z" fill="#222"/>
<path d="M702.00,243.40 L695.00,245.20 L695.00,241.60 Z" fill="#222"/>
<line x1="633" y1="260.5" x2="702" y2="260.5" stroke="#222" stroke-width="1" />
<path d="M633.00,260.00 L640.00,258.20 L640.00,261.80 Z" fill="#222"/>
<path d="M702.00,260.00 L695.00,261.80 L695.00,258.20 Z" fill="#222"/>
<line x1="637.5" y1="208" x2="637.5" y2="230" stroke="#222" stroke-width="1" />
<line x1="697.5" y1="208" x2="697.5" y2="230" stroke="#222" stroke-width="1" />
<line x1="632.5" y1="208" x2="632.5" y2="264" stroke="#222" stroke-width="1" />
<line x1="700.5" y1="208" x2="700.5" y2="264" stroke="#222" stroke-width="1" />
<g transform="translate(0,0)">
<text x="277" y="284.7" font-size="12" font-weight="bold" font-style="normal" text-anchor="start" >38</text>
<line x1="274" y1="286.5" x2="317" y2="286.5" stroke="#222" stroke-width="1" />
<line x1="291.5" y1="286.4" x2="291.5" y2="321.4" stroke="#222" stroke-width="1" />
<path d="M291.40,295.00 L290.10,290.00 L292.70,290.00 Z" fill="#222"/>
<path d="M291.40,303.50 L292.70,308.50 L290.10,308.50 Z" fill="#222"/>
<path d="M291.4,298.3 L297.5,298.3 M291.4,303.4 L297.5,303.4" stroke="#222" stroke-width="1"/>
<line x1="297.5" y1="286.4" x2="297.5" y2="303.4" stroke="#222" stroke-width="1" />
<line x1="314.5" y1="286.4" x2="314.5" y2="297" stroke="#222" stroke-width="1" />
<path d="M300.50,286.40 L305.00,285.20 L305.00,287.60 Z" fill="#222"/>
<path d="M311.20,286.40 L306.70,287.60 L306.70,285.20 Z" fill="#222"/>
<line x1="297.5" y1="286.4" x2="303" y2="293.8" stroke="#222" stroke-width="0.9" />
<circle cx="306.9" cy="299.8" r="7.3" stroke="#222" stroke-width="2.2" fill="none" />
<circle cx="306.9" cy="299.8" r="3.4" stroke="#222" stroke-width="0.9" fill="none" />
<line x1="299" y1="300.5" x2="314" y2="300.5" stroke="#222" stroke-width="1.0" />
<line x1="307.5" y1="292" x2="307.5" y2="307.5" stroke="#222" stroke-width="1.0" />
<line x1="302" y1="294.5" x2="312" y2="305" stroke="#222" stroke-width="0.8" />
<text x="277" y="318.3" font-size="12" font-weight="bold" font-style="normal" text-anchor="start" >10</text>
<line x1="277" y1="321.5" x2="291.4" y2="321.5" stroke="#222" stroke-width="1" />
<text x="323.4" y="320" font-size="12" font-weight="bold" font-style="normal" text-anchor="start" >M12</text>
<line x1="322" y1="321.5" x2="346.8" y2="321.5" stroke="#222" stroke-width="1" />
<line x1="322" y1="321.6" x2="311.4" y2="307" stroke="#222" stroke-width="1" />
</g>
<line x1="384" y1="301.5" x2="531" y2="301.5" stroke="#222" stroke-width="0.8" stroke-dasharray="8,2,1.5,2"/>
<rect x="385.8" y="293" width="31.9" height="16" stroke="#222" stroke-width="2" fill="none" />
<rect x="495" y="293" width="34.5" height="16" stroke="#222" stroke-width="2" fill="none" />
<path d="M417.7,286 L438.6,286 L441,283 L472,283 L475.5,286 L495,286 L495,316 L475.5,316 L472,318.5 L441,318.5 L438.6,316 L417.7,316 Z" stroke="#222" stroke-width="2" fill="none" />
<svg x="418.7" y="287" width="75.30000000000001" height="6" overflow="hidden">
<path d="M-6.00,6.00 L0.00,0 M-2.70,6.00 L3.30,0 M0.60,6.00 L6.60,0 M3.90,6.00 L9.90,0 M7.20,6.00 L13.20,0 M10.50,6.00 L16.50,0 M13.80,6.00 L19.80,0 M17.10,6.00 L23.10,0 M20.40,6.00 L26.40,0 M23.70,6.00 L29.70,0 M27.00,6.00 L33.00,0 M30.30,6.00 L36.30,0 M33.60,6.00 L39.60,0 M36.90,6.00 L42.90,0 M40.20,6.00 L46.20,0 M43.50,6.00 L49.50,0 M46.80,6.00 L52.80,0 M50.10,6.00 L56.10,0 M53.40,6.00 L59.40,0 M56.70,6.00 L62.70,0 M60.00,6.00 L66.00,0 M63.30,6.00 L69.30,0 M66.60,6.00 L72.60,0 M69.90,6.00 L75.90,0 M73.20,6.00 L79.20,0 " stroke="#222" stroke-width="1.25"/>
</svg>
<svg x="418.7" y="309" width="75.30000000000001" height="6" overflow="hidden">
<path d="M-6.00,6.00 L0.00,0 M-2.70,6.00 L3.30,0 M0.60,6.00 L6.60,0 M3.90,6.00 L9.90,0 M7.20,6.00 L13.20,0 M10.50,6.00 L16.50,0 M13.80,6.00 L19.80,0 M17.10,6.00 L23.10,0 M20.40,6.00 L26.40,0 M23.70,6.00 L29.70,0 M27.00,6.00 L33.00,0 M30.30,6.00 L36.30,0 M33.60,6.00 L39.60,0 M36.90,6.00 L42.90,0 M40.20,6.00 L46.20,0 M43.50,6.00 L49.50,0 M46.80,6.00 L52.80,0 M50.10,6.00 L56.10,0 M53.40,6.00 L59.40,0 M56.70,6.00 L62.70,0 M60.00,6.00 L66.00,0 M63.30,6.00 L69.30,0 M66.60,6.00 L72.60,0 M69.90,6.00 L75.90,0 M73.20,6.00 L79.20,0 " stroke="#222" stroke-width="1.25"/>
</svg>
<line x1="417.7" y1="293" x2="495" y2="293" stroke="#222" stroke-width="1.5" />
<line x1="417.7" y1="309" x2="495" y2="309" stroke="#222" stroke-width="1.5" />
<line x1="417.7" y1="286" x2="417.7" y2="316" stroke="#222" stroke-width="2.2" />
<line x1="495" y1="286" x2="495" y2="316" stroke="#222" stroke-width="2.2" />
<path d="M392.0,297.5 L411.5,297.5 Q414,297.5 414,301 Q414,304.5 411.5,304.5 L392.0,304.5 Q389.5,304.5 389.5,301 Q389.5,297.5 392.0,297.5 Z" stroke="#222" stroke-width="1.2" fill="none" />
<path d="M425.2,297.5 L444.5,297.5 Q447,297.5 447,301 Q447,304.5 444.5,304.5 L425.2,304.5 Q422.7,304.5 422.7,301 Q422.7,297.5 425.2,297.5 Z" stroke="#222" stroke-width="1.2" fill="none" />
<path d="M469.5,297.5 L489.0,297.5 Q491.5,297.5 491.5,301 Q491.5,304.5 489.0,304.5 L469.5,304.5 Q467,304.5 467,301 Q467,297.5 469.5,297.5 Z" stroke="#222" stroke-width="1.2" fill="none" />
<path d="M502.5,297.5 L522.1,297.5 Q524.6,297.5 524.6,301 Q524.6,304.5 522.1,304.5 L502.5,304.5 Q500,304.5 500,301 Q500,297.5 502.5,297.5 Z" stroke="#222" stroke-width="1.2" fill="none" />
<line x1="441.5" y1="293" x2="441.5" y2="309" stroke="#222" stroke-width="0.8" />
<line x1="473.5" y1="293" x2="473.5" y2="309" stroke="#222" stroke-width="0.8" />
<text x="375.5" y="278" font-size="12" font-weight="bold" font-style="normal" text-anchor="start" >35</text>
<text x="387.5" y="262.5" font-size="8.5" font-weight="bold" font-style="normal" text-anchor="start" >-0.01</text>
<text x="387.5" y="268.5" font-size="8.5" font-weight="bold" font-style="normal" text-anchor="start" >-0.02</text>
<line x1="374" y1="280.5" x2="389" y2="280.5" stroke="#222" stroke-width="1" />
<line x1="374.5" y1="280" x2="374.5" y2="320" stroke="#222" stroke-width="1" />
<path d="M374.00,293.00 L372.20,286.00 L375.80,286.00 Z" fill="#222"/>
<path d="M374.00,309.00 L375.80,316.00 L372.20,316.00 Z" fill="#222"/>
<line x1="371" y1="293.5" x2="385.8" y2="293.5" stroke="#222" stroke-width="0.8" />
<line x1="371" y1="309.5" x2="385.8" y2="309.5" stroke="#222" stroke-width="0.8" />
<text x="540" y="278" font-size="12" font-weight="bold" font-style="normal" text-anchor="start" >35</text>
<text x="550.5" y="262.5" font-size="8.5" font-weight="bold" font-style="normal" text-anchor="start" >-0.01</text>
<text x="550.5" y="268.5" font-size="8.5" font-weight="bold" font-style="normal" text-anchor="start" >-0.02</text>
<line x1="539" y1="280.5" x2="554" y2="280.5" stroke="#222" stroke-width="1" />
<line x1="539.5" y1="280" x2="539.5" y2="320" stroke="#222" stroke-width="1" />
<path d="M539.00,293.00 L537.20,286.00 L540.80,286.00 Z" fill="#222"/>
<path d="M539.00,309.00 L540.80,316.00 L537.20,316.00 Z" fill="#222"/>
<line x1="529.5" y1="293.5" x2="543" y2="293.5" stroke="#222" stroke-width="0.8" />
<line x1="529.5" y1="309.5" x2="543" y2="309.5" stroke="#222" stroke-width="0.8" />
<text x="393" y="323" font-size="12" font-weight="bold" font-style="normal" text-anchor="start" >65</text>
<text x="505" y="323" font-size="12" font-weight="bold" font-style="normal" text-anchor="start" >65</text>
<line x1="385.8" y1="325.5" x2="417.7" y2="325.5" stroke="#222" stroke-width="1" />
<path d="M385.80,325.00 L392.80,323.20 L392.80,326.80 Z" fill="#222"/>
<path d="M417.70,325.00 L410.70,326.80 L410.70,323.20 Z" fill="#222"/>
<line x1="495" y1="325.5" x2="529.5" y2="325.5" stroke="#222" stroke-width="1" />
<path d="M495.00,325.00 L502.00,323.20 L502.00,326.80 Z" fill="#222"/>
<path d="M529.50,325.00 L522.50,326.80 L522.50,323.20 Z" fill="#222"/>
<text x="393" y="340" font-size="12" font-weight="bold" font-style="normal" text-anchor="start" >72</text>
<text x="446" y="340" font-size="12" font-weight="bold" font-style="normal" text-anchor="start" >133</text>
<text x="505" y="340" font-size="12" font-weight="bold" font-style="normal" text-anchor="start" >72</text>
<line x1="385.8" y1="342.5" x2="417.7" y2="342.5" stroke="#222" stroke-width="1" />
<path d="M385.80,342.00 L392.80,340.20 L392.80,343.80 Z" fill="#222"/>
<path d="M417.70,342.00 L410.70,343.80 L410.70,340.20 Z" fill="#222"/>
<line x1="417.7" y1="342.5" x2="495" y2="342.5" stroke="#222" stroke-width="1" />
<path d="M417.70,342.00 L424.70,340.20 L424.70,343.80 Z" fill="#222"/>
<path d="M495.00,342.00 L488.00,343.80 L488.00,340.20 Z" fill="#222"/>
<line x1="495" y1="342.5" x2="529.5" y2="342.5" stroke="#222" stroke-width="1" />
<path d="M495.00,342.00 L502.00,340.20 L502.00,343.80 Z" fill="#222"/>
<path d="M529.50,342.00 L522.50,343.80 L522.50,340.20 Z" fill="#222"/>
<line x1="385.5" y1="309" x2="385.5" y2="346" stroke="#222" stroke-width="1" />
<line x1="417.5" y1="309" x2="417.5" y2="346" stroke="#222" stroke-width="1" />
<line x1="495.5" y1="309" x2="495.5" y2="346" stroke="#222" stroke-width="1" />
<line x1="529.5" y1="309" x2="529.5" y2="346" stroke="#222" stroke-width="1" />
<text x="12.2" y="537.7" font-size="10" font-weight="bold" font-style="normal" text-anchor="start" >M8</text>
<text x="41" y="535.5" font-size="12" font-weight="bold" font-style="normal" text-anchor="start" >8</text>
<text x="69.1" y="528.8" font-size="12" font-weight="bold" font-style="normal" text-anchor="start" >27</text>
<text x="10.5" y="559.8" font-size="10" font-weight="bold" font-style="normal" text-anchor="start" >Ø24</text>
<circle cx="43.7" cy="550.9" r="5.6" stroke="#222" stroke-width="2" fill="none" />
<line x1="38.5" y1="550.5" x2="49" y2="550.5" stroke="#222" stroke-width="0.8" />
<line x1="43.5" y1="545.5" x2="43.5" y2="556.5" stroke="#222" stroke-width="0.8" />
<line x1="40.5" y1="554" x2="47" y2="548" stroke="#222" stroke-width="0.7" />
<line x1="12.2" y1="539.5" x2="27.1" y2="539.5" stroke="#222" stroke-width="1" />
<line x1="27.1" y1="539.1" x2="38.7" y2="547" stroke="#222" stroke-width="1" />
<line x1="10" y1="561.5" x2="36" y2="561.5" stroke="#222" stroke-width="1" />
<line x1="36" y1="561.4" x2="39.8" y2="555.4" stroke="#222" stroke-width="1" />
<line x1="28.8" y1="538.5" x2="58.6" y2="538.5" stroke="#222" stroke-width="1" />
<path d="M42.00,538.40 L37.00,539.80 L37.00,537.00 Z" fill="#222"/>
<path d="M45.40,538.40 L50.40,537.00 L50.40,539.80 Z" fill="#222"/>
<line x1="42.5" y1="538.4" x2="42.5" y2="545" stroke="#222" stroke-width="1" />
<line x1="45.5" y1="538.4" x2="45.5" y2="545" stroke="#222" stroke-width="1" />
<line x1="46" y1="543.5" x2="67.3" y2="543.5" stroke="#222" stroke-width="1" />
<line x1="46" y1="556.5" x2="67.3" y2="556.5" stroke="#222" stroke-width="1" />
<line x1="67.3" y1="530.5" x2="81.8" y2="530.5" stroke="#222" stroke-width="1" />
<line x1="67.5" y1="530.3" x2="67.5" y2="570" stroke="#222" stroke-width="1" />
<path d="M67.30,543.20 L65.90,538.20 L68.70,538.20 Z" fill="#222"/>
<path d="M67.30,556.50 L68.70,561.50 L65.90,561.50 Z" fill="#222"/>
<text x="149" y="508" font-size="12" font-weight="bold" font-style="normal" text-anchor="start" >100</text>
<text x="116" y="526.5" font-size="12" font-weight="bold" font-style="normal" text-anchor="start" >50</text>
<line x1="133.8" y1="510.5" x2="184.8" y2="510.5" stroke="#222" stroke-width="1" />
<path d="M133.80,510.00 L140.80,508.20 L140.80,511.80 Z" fill="#222"/>
<path d="M184.80,510.00 L177.80,511.80 L177.80,508.20 Z" fill="#222"/>
<line x1="109.2" y1="528.5" x2="133.8" y2="528.5" stroke="#222" stroke-width="1" />
<path d="M109.20,528.20 L116.20,526.40 L116.20,530.00 Z" fill="#222"/>
<path d="M133.80,528.20 L126.80,530.00 L126.80,526.40 Z" fill="#222"/>
<line x1="133.5" y1="506" x2="133.5" y2="551.5" stroke="#222" stroke-width="1.0" />
<line x1="182.5" y1="506" x2="182.5" y2="532" stroke="#222" stroke-width="1.0" />
<line x1="109.5" y1="524" x2="109.5" y2="556" stroke="#222" stroke-width="1.0" />
<rect x="109.8" y="543.5" width="24.6" height="13.5" stroke="#222" stroke-width="1" fill="none" />
<line x1="112" y1="544.5" x2="133" y2="544.5" stroke="#222" stroke-width="2.0" />
<line x1="110.6" y1="544" x2="110.6" y2="557" stroke="#222" stroke-width="2.4" />
<line x1="135" y1="543" x2="135" y2="559" stroke="#222" stroke-width="2.4" />
<line x1="106" y1="551.5" x2="190" y2="551.5" stroke="#222" stroke-width="0.8" stroke-dasharray="8,2,1.5,2"/>
<path d="M137.5,589.6 L137.5,529.3 Q137.5,526.3 140.5,526.3 L160.4,526.3 Q161.8,526.3 162.8,528.5 L167.6,544.1" stroke="#222" stroke-width="1.1" fill="none" />
<path d="M141.8,551.5 L141.8,531.2 L160.6,531.2 L164.8,544.1" stroke="#222" stroke-width="1.0" fill="none" />
<path d="M188.5,533 Q178,572 137.5,589.6" stroke="#222" stroke-width="1.1" fill="none" />
<path d="M181,545.4 L152,545.4 Q148.5,546 149.5,549.5 Q152,552 153,555 Q154,560 150,560 Q146,558 143,554 Q141,552 138.5,552" stroke="#222" stroke-width="1.1" fill="none" />
<line x1="171.9" y1="528.2" x2="171.9" y2="545.4" stroke="#222" stroke-width="1.8" />
<line x1="178.6" y1="528.2" x2="178.6" y2="545.4" stroke="#222" stroke-width="1.8" />
<line x1="186" y1="528.2" x2="186" y2="537" stroke="#222" stroke-width="1.8" />
<line x1="166.5" y1="532.5" x2="188.5" y2="532.5" stroke="#222" stroke-width="1.0" />
<line x1="136.2" y1="554" x2="136.2" y2="568.7" stroke="#222" stroke-width="2.2" />
<line x1="140.5" y1="552" x2="140.5" y2="589.6" stroke="#222" stroke-width="1.0" />
<text x="19.8" y="611.5" font-size="12.3" font-weight="normal" font-style="normal" text-anchor="start" textLength="184" lengthAdjust="spacingAndGlyphs"><tspan font-weight="bold">Opsiyonel</tspan> / <tspan font-style="italic">Optional</tspan> / Auswählbar</text>
<text x="75.5" y="624.5" font-size="12" font-weight="bold" font-style="normal" text-anchor="start" textLength="72" lengthAdjust="spacingAndGlyphs">EV080.05-06.</text>
<text x="389.5" y="456.5" font-size="12" font-weight="bold" font-style="normal" text-anchor="start" >k1</text>
<text x="383" y="472" font-size="12" font-weight="bold" font-style="normal" text-anchor="start" >k</text>
<text x="299" y="495" font-size="12" font-weight="bold" font-style="normal" text-anchor="start" >192</text>
<text x="278.5" y="512" font-size="12" font-weight="bold" font-style="normal" text-anchor="start" >96</text>
<line x1="262" y1="459.5" x2="529.6" y2="459.5" stroke="#222" stroke-width="1" />
<path d="M262.00,459.00 L269.00,457.20 L269.00,460.80 Z" fill="#222"/>
<path d="M529.60,459.00 L522.60,460.80 L522.60,457.20 Z" fill="#222"/>
<line x1="262" y1="475.5" x2="510.7" y2="475.5" stroke="#222" stroke-width="1" />
<path d="M262.00,475.00 L269.00,473.20 L269.00,476.80 Z" fill="#222"/>
<path d="M510.70,475.00 L503.70,476.80 L503.70,473.20 Z" fill="#222"/>
<line x1="262" y1="497.5" x2="356.7" y2="497.5" stroke="#222" stroke-width="1" />
<path d="M262.00,497.00 L269.00,495.20 L269.00,498.80 Z" fill="#222"/>
<path d="M356.70,497.00 L349.70,498.80 L349.70,495.20 Z" fill="#222"/>
<line x1="262" y1="514.5" x2="309.5" y2="514.5" stroke="#222" stroke-width="1" />
<path d="M262.00,514.00 L269.00,512.20 L269.00,515.80 Z" fill="#222"/>
<path d="M309.50,514.00 L302.50,515.80 L302.50,512.20 Z" fill="#222"/>
<line x1="262.5" y1="459" x2="262.5" y2="526" stroke="#222" stroke-width="1" />
<line x1="529.5" y1="459" x2="529.5" y2="520" stroke="#222" stroke-width="1" />
<line x1="510.5" y1="475" x2="510.5" y2="520" stroke="#222" stroke-width="1" />
<line x1="356.5" y1="497" x2="356.5" y2="526" stroke="#222" stroke-width="1" />
<line x1="309.5" y1="514" x2="309.5" y2="640" stroke="#222" stroke-width="0.8" />
<line x1="218.5" y1="526.5" x2="218.5" y2="636.5" stroke="#222" stroke-width="1" />
<path d="M218.40,526.50 L220.20,533.50 L216.60,533.50 Z" fill="#222"/>
<path d="M218.40,636.50 L216.60,629.50 L220.20,629.50 Z" fill="#222"/>
<line x1="215" y1="526.5" x2="262.7" y2="526.5" stroke="#222" stroke-width="1" />
<line x1="215" y1="636.5" x2="262.7" y2="636.5" stroke="#222" stroke-width="1" />
<line x1="250.5" y1="590.5" x2="250.5" y2="636.5" stroke="#222" stroke-width="1" />
<path d="M250.30,590.50 L252.10,597.50 L248.50,597.50 Z" fill="#222"/>
<path d="M250.30,636.50 L248.50,629.50 L252.10,629.50 Z" fill="#222"/>
<line x1="247" y1="590.5" x2="262.7" y2="590.5" stroke="#222" stroke-width="1.0" />
<text x="222" y="515" font-size="12" font-weight="bold" font-style="normal" text-anchor="start" >Ø242</text>
<line x1="222" y1="517.5" x2="251" y2="517.5" stroke="#222" stroke-width="1" />
<line x1="251" y1="517.5" x2="276" y2="545" stroke="#222" stroke-width="1" />
<text x="222" y="547" font-size="12" font-weight="bold" font-style="normal" text-anchor="start" >Ø215</text>
<line x1="222" y1="549.5" x2="251" y2="549.5" stroke="#222" stroke-width="1" />
<line x1="251" y1="549.5" x2="266" y2="558" stroke="#222" stroke-width="1" />
<text x="221.6" y="628.3" font-size="12" font-weight="bold" font-style="normal" text-anchor="start" >15</text>
<line x1="221.6" y1="630.5" x2="237" y2="630.5" stroke="#222" stroke-width="1" />
<line x1="237" y1="630.3" x2="264.7" y2="658.6" stroke="#222" stroke-width="1" />
<path d="M246.00,639.50 L241.47,636.95 L243.45,634.97 Z" fill="#222"/>
<path d="M258.00,652.00 L262.53,654.55 L260.55,656.53 Z" fill="#222"/>
<line x1="250.3" y1="647.5" x2="280.2" y2="622" stroke="#222" stroke-width="0.9" />
<text x="299" y="653" font-size="12" font-weight="bold" font-style="normal" text-anchor="start" >137</text>
<line x1="275" y1="655.5" x2="344.2" y2="655.5" stroke="#222" stroke-width="1" />
<path d="M275.00,655.00 L282.00,653.20 L282.00,656.80 Z" fill="#222"/>
<path d="M344.20,655.00 L337.20,656.80 L337.20,653.20 Z" fill="#222"/>
<line x1="275.5" y1="634" x2="275.5" y2="659" stroke="#222" stroke-width="1" />
<line x1="344.5" y1="634" x2="344.5" y2="659" stroke="#222" stroke-width="1" />
<text x="300" y="670.3" font-size="12" font-weight="bold" font-style="normal" text-anchor="start" >190</text>
<line x1="264.7" y1="671.5" x2="355.4" y2="671.5" stroke="#222" stroke-width="1" />
<path d="M264.70,671.90 L271.70,670.10 L271.70,673.70 Z" fill="#222"/>
<path d="M355.40,671.90 L348.40,673.70 L348.40,670.10 Z" fill="#222"/>
<line x1="264.5" y1="631" x2="264.5" y2="675" stroke="#222" stroke-width="1" />
<line x1="355.5" y1="637" x2="355.5" y2="675" stroke="#222" stroke-width="1" />
<text x="361.5" y="653" font-size="12" font-weight="bold" font-style="normal" text-anchor="start" >10</text>
<line x1="362.5" y1="655.5" x2="376.4" y2="655.5" stroke="#222" stroke-width="1" />
<line x1="376.5" y1="622" x2="376.5" y2="655.3" stroke="#222" stroke-width="1" />
<path d="M376.40,632.00 L375.00,627.00 L377.80,627.00 Z" fill="#222"/>
<path d="M376.40,636.50 L377.80,641.50 L375.00,641.50 Z" fill="#222"/>
<line x1="356.7" y1="632.5" x2="380" y2="632.5" stroke="#222" stroke-width="1" />
<line x1="356.7" y1="636.5" x2="380" y2="636.5" stroke="#222" stroke-width="1" />
<path d="M262.7,637.4 L262.7,526.5 L289.6,526.5 M330.2,526.5 L356.7,526.5 L356.7,637.4" stroke="#222" stroke-width="2" fill="none" />
<line x1="261.7" y1="637.4" x2="357.7" y2="637.4" stroke="#222" stroke-width="1.6" />
<path d="M289.6,526.5 L292.6,543.7 M330.2,526.5 L327.2,543.7" stroke="#222" stroke-width="1.6" fill="none" />
<path d="M286.4,531.5 L289.5,543.7 M333.5,531.5 L330.5,543.7" stroke="#222" stroke-width="1.0" fill="none" />
<path d="M266.5,555 L266.5,531.5 L286.4,531.5 M333.5,531.5 L352.3,531.5 L352.3,555" stroke="#222" stroke-width="1" fill="none" />
<line x1="297.8" y1="528.3" x2="297.8" y2="543.7" stroke="#222" stroke-width="1.8" />
<line x1="296.0" y1="528.5" x2="299.6" y2="528.5" stroke="#222" stroke-width="1.2" />
<line x1="305.9" y1="528.3" x2="305.9" y2="543.7" stroke="#222" stroke-width="1.8" />
<line x1="304.09999999999997" y1="528.5" x2="307.7" y2="528.5" stroke="#222" stroke-width="1.2" />
<line x1="313.2" y1="528.3" x2="313.2" y2="543.7" stroke="#222" stroke-width="1.8" />
<line x1="311.4" y1="528.5" x2="315.0" y2="528.5" stroke="#222" stroke-width="1.2" />
<line x1="320.6" y1="528.3" x2="320.6" y2="543.7" stroke="#222" stroke-width="1.8" />
<line x1="318.8" y1="528.5" x2="322.40000000000003" y2="528.5" stroke="#222" stroke-width="1.2" />
<line x1="290" y1="532.5" x2="331" y2="532.5" stroke="#222" stroke-width="1.2" />
<path d="M275.6,548 L277,546 L342,546 L343.5,548" stroke="#222" stroke-width="2" fill="none" />
<line x1="263.8" y1="555" x2="263.8" y2="631.5" stroke="#222" stroke-width="2.2" />
<line x1="356" y1="555" x2="356" y2="637" stroke="#222" stroke-width="2.2" />
<line x1="266.5" y1="560" x2="266.5" y2="628" stroke="#222" stroke-width="1.0" />
<line x1="353.5" y1="560" x2="353.5" y2="630" stroke="#222" stroke-width="1.0" />
<path d="M275.6,634.4 L279,636.6 L340,636.6 L343.5,634.4" stroke="#222" stroke-width="1.5" fill="none" />
<line x1="290" y1="636.8" x2="330" y2="636.8" stroke="#222" stroke-width="2.5" />
<line x1="258" y1="551.5" x2="529" y2="551.5" stroke="#222" stroke-width="0.8" stroke-dasharray="8,2,1.5,2"/>
<line x1="258" y1="590.5" x2="362" y2="590.5" stroke="#222" stroke-width="0.8" stroke-dasharray="8,2,1.5,2"/>
<circle cx="309.5" cy="590.5" r="35.4" stroke="#222" stroke-width="1" fill="none" />
<circle cx="309.5" cy="590.5" r="24" stroke="#222" stroke-width="1" fill="none" />
<circle cx="309.5" cy="590.5" r="18.8" stroke="#222" stroke-width="1.1" fill="none" />
<circle cx="309.5" cy="590.5" r="14" stroke="#222" stroke-width="1.3" fill="none" />
<circle cx="309.5" cy="590.5" r="10.3" stroke="#222" stroke-width="1.6" fill="none" />
<circle cx="309.5" cy="590.5" r="8.1" stroke="#222" stroke-width="1.1" fill="none" />
<circle cx="309.5" cy="590.5" r="5.9" stroke="#222" stroke-width="1.3" fill="none" />
<circle cx="309.5" cy="590.5" r="2.2" stroke="#222" stroke-width="1" fill="none" />
<line x1="309.5" y1="584.3" x2="309.5" y2="596.7" stroke="#222" stroke-width="0.7" />
<g transform="translate(274.7,557) rotate(35)">
<path d="M-7,-3.8 L5.5,-3.8 A3.8,3.8 0 0 1 5.5,3.8 L-7,3.8" stroke="#222" stroke-width="2.4" fill="none" />
<line x1="-6" y1="-1.5" x2="5" y2="-1.5" stroke="#222" stroke-width="1.0" />
<line x1="-6" y1="1.5" x2="5" y2="1.5" stroke="#222" stroke-width="1.0" />
</g>
<g transform="translate(344.5,557) rotate(145)">
<path d="M-7,-3.8 L5.5,-3.8 A3.8,3.8 0 0 1 5.5,3.8 L-7,3.8" stroke="#222" stroke-width="2.4" fill="none" />
<line x1="-6" y1="-1.5" x2="5" y2="-1.5" stroke="#222" stroke-width="1.0" />
<line x1="-6" y1="1.5" x2="5" y2="1.5" stroke="#222" stroke-width="1.0" />
</g>
<g transform="translate(274.7,624.5) rotate(-35)">
<path d="M-7,-3.8 L5.5,-3.8 A3.8,3.8 0 0 1 5.5,3.8 L-7,3.8" stroke="#222" stroke-width="2.4" fill="none" />
<line x1="-6" y1="-1.5" x2="5" y2="-1.5" stroke="#222" stroke-width="1.0" />
<line x1="-6" y1="1.5" x2="5" y2="1.5" stroke="#222" stroke-width="1.0" />
</g>
<g transform="translate(344.5,624.5) rotate(-145)">
<path d="M-7,-3.8 L5.5,-3.8 A3.8,3.8 0 0 1 5.5,3.8 L-7,3.8" stroke="#222" stroke-width="2.4" fill="none" />
<line x1="-6" y1="-1.5" x2="5" y2="-1.5" stroke="#222" stroke-width="1.0" />
<line x1="-6" y1="1.5" x2="5" y2="1.5" stroke="#222" stroke-width="1.0" />
</g>
<line x1="282" y1="562" x2="287" y2="567" stroke="#222" stroke-width="0.8" />
<line x1="337" y1="562" x2="332" y2="567" stroke="#222" stroke-width="0.8" />
<line x1="282" y1="619" x2="287" y2="614" stroke="#222" stroke-width="0.8" />
<line x1="337" y1="619" x2="332" y2="614" stroke="#222" stroke-width="0.8" />
<g transform="translate(2.5,429.2)">
<path d="M354.5,97.75 L362.8,97.75 M354.5,146 L362.8,146" stroke="#222" stroke-width="2" fill="none" />
<path d="M362.8,89.6 L376,89.6 L386.4,86.8 L387.3,86.8 L387.3,159 L386.4,159 L376,154.6 L362.8,154.6 Z" stroke="#222" stroke-width="1.7" fill="none" />
<line x1="370.5" y1="89.6" x2="370.5" y2="154.6" stroke="#222" stroke-width="1.0" />
<line x1="375.5" y1="89.6" x2="375.5" y2="154.6" stroke="#222" stroke-width="1.0" />
<line x1="387.3" y1="85" x2="387.3" y2="158.5" stroke="#222" stroke-width="2.2" />
<path d="M387.3,85 L393.7,85 L393.7,79.8 L401.5,79.8 M450,79.8 L490,79.8 M393.7,85 L393.7,164 L490,164" stroke="#222" stroke-width="1.8" fill="none" />
<line x1="393.7" y1="164" x2="490" y2="164" stroke="#222" stroke-width="2.2" />
<line x1="462.5" y1="80" x2="462.5" y2="164" stroke="#222" stroke-width="1" />
<line x1="394.2" y1="100.7" x2="462.4" y2="100.7" stroke="#222" stroke-width="1.9" />
<line x1="394.2" y1="106.8" x2="462.4" y2="106.8" stroke="#222" stroke-width="1.9" />
<line x1="394.2" y1="113" x2="462.4" y2="113" stroke="#222" stroke-width="1.9" />
<line x1="394.2" y1="125.7" x2="462.4" y2="125.7" stroke="#222" stroke-width="1.9" />
<line x1="394.2" y1="131.6" x2="462.4" y2="131.6" stroke="#222" stroke-width="1.9" />
<line x1="394.2" y1="137.8" x2="462.4" y2="137.8" stroke="#222" stroke-width="1.9" />
<line x1="394.2" y1="143.4" x2="462.4" y2="143.4" stroke="#222" stroke-width="1.9" />
<line x1="394.2" y1="119.5" x2="462.4" y2="119.5" stroke="#222" stroke-width="1.0" />
<path d="M394.2,85.3 L462.4,85.3 M394.2,82.3 L401.5,82.3 M450,82.3 L462.4,82.3" stroke="#222" stroke-width="0.9" fill="none" />
<rect x="394.2" y="85.3" width="14.3" height="8.4" stroke="#222" stroke-width="0.9" fill="none" />
<rect x="447" y="85.3" width="15.4" height="8.4" stroke="#222" stroke-width="0.9" fill="none" />
<line x1="394.2" y1="152.5" x2="462.4" y2="152.5" stroke="#222" stroke-width="1.0" />
<line x1="394.2" y1="158.5" x2="462.4" y2="158.5" stroke="#222" stroke-width="1.0" />
<line x1="394.2" y1="160.5" x2="462.4" y2="160.5" stroke="#222" stroke-width="1.0" />
<path d="M490,79.8 Q504,80 507.6,92.3 L507.6,151.8 Q504,164 490,164" stroke="#222" stroke-width="2" fill="none" />
<line x1="505.5" y1="93" x2="505.5" y2="151" stroke="#222" stroke-width="0.8" />
<path d="M490,79.8 L500,79.8 Q522,80 525.7,94 L525.7,151.8 Q522,164.6 500,164.6 L490,164.6" stroke="#222" stroke-width="0.9" fill="none" />
<path d="M524.3,93 L524.3,115 M524.3,128 L524.3,151.8 M526.6,93 L526.6,115 M526.6,128 L526.6,151.8" stroke="#222" stroke-width="1.0" fill="none" />
<path d="M524.3,117 L524.3,119 M524.3,121 L524.3,123 M524.3,125 L524.3,126.5 M526.6,117 L526.6,119 M526.6,121 L526.6,123 M526.6,125 L526.6,126.5" stroke="#222" stroke-width="1.0" fill="none" />
<path d="M490,79.9 L507,79.9 M490,164.4 L507,164.4" stroke="#222" stroke-width="1.0" fill="none" stroke-dasharray="2.5,1.5"/>
<path d="M402.8,81.7 L401,58 Q401,53.2 405,53.2 L448,53.2 Q452,53.2 452,58 L450,81.7" stroke="#222" stroke-width="1.8" fill="none" />
<rect x="402" y="53.5" width="49.5" height="4.3" stroke="#222" stroke-width="0" fill="#222" />
<line x1="401.5" y1="63.5" x2="451.5" y2="63.5" stroke="#222" stroke-width="1.0" />
<line x1="409.5" y1="63.4" x2="409.5" y2="94.4" stroke="#222" stroke-width="1.0" />
<line x1="442.5" y1="63.4" x2="442.5" y2="94.4" stroke="#222" stroke-width="1.0" />
<line x1="409.7" y1="94.5" x2="442.7" y2="94.5" stroke="#222" stroke-width="1.0" />
<polygon points="434.80,74.10 430.50,81.55 421.90,81.55 417.60,74.10 421.90,66.65 430.50,66.65" stroke="#222" stroke-width="1.4" fill="none"/>
<circle cx="426.2" cy="74.1" r="5.1" stroke="#222" stroke-width="1.2" fill="none" />
<circle cx="426.2" cy="74.1" r="4.0" stroke="#222" stroke-width="0.8" fill="none" />
</g>
<line x1="455" y1="483.5" x2="482" y2="483.5" stroke="#222" stroke-width="1" />
<rect x="396.7" y="589.3" width="68" height="4.3" stroke="#222" stroke-width="0" fill="#222" />
<line x1="476.5" y1="483.3" x2="476.5" y2="551.6" stroke="#222" stroke-width="1" />
<path d="M476.50,483.30 L478.30,490.30 L474.70,490.30 Z" fill="#222"/>
<path d="M476.50,551.60 L474.70,544.60 L478.30,544.60 Z" fill="#222"/>
<line x1="489.5" y1="509" x2="489.5" y2="593.6" stroke="#222" stroke-width="1" />
<path d="M489.50,509.00 L491.30,516.00 L487.70,516.00 Z" fill="#222"/>
<path d="M489.50,593.60 L487.70,586.60 L491.30,586.60 Z" fill="#222"/>
<text x="599" y="467" font-size="12" font-weight="bold" font-style="normal" text-anchor="start" >65</text>
<text x="635" y="467" font-size="12" font-weight="bold" font-style="normal" text-anchor="start" >105</text>
<text x="686" y="467" font-size="12" font-weight="bold" font-style="normal" text-anchor="start" >105</text>
<text x="730" y="467" font-size="12" font-weight="bold" font-style="normal" text-anchor="start" >65</text>
<line x1="587" y1="469.5" x2="618.4" y2="469.5" stroke="#222" stroke-width="1" />
<path d="M587.00,469.00 L594.00,467.20 L594.00,470.80 Z" fill="#222"/>
<path d="M618.40,469.00 L611.40,470.80 L611.40,467.20 Z" fill="#222"/>
<line x1="618.4" y1="469.5" x2="669.7" y2="469.5" stroke="#222" stroke-width="1" />
<path d="M618.40,469.00 L625.40,467.20 L625.40,470.80 Z" fill="#222"/>
<path d="M669.70,469.00 L662.70,470.80 L662.70,467.20 Z" fill="#222"/>
<line x1="669.7" y1="469.5" x2="719.7" y2="469.5" stroke="#222" stroke-width="1" />
<path d="M669.70,469.00 L676.70,467.20 L676.70,470.80 Z" fill="#222"/>
<path d="M719.70,469.00 L712.70,470.80 L712.70,467.20 Z" fill="#222"/>
<line x1="719.7" y1="469.5" x2="752" y2="469.5" stroke="#222" stroke-width="1" />
<path d="M719.70,469.00 L726.70,467.20 L726.70,470.80 Z" fill="#222"/>
<path d="M752.00,469.00 L745.00,470.80 L745.00,467.20 Z" fill="#222"/>
<line x1="587.5" y1="465" x2="587.5" y2="583" stroke="#222" stroke-width="1" />
<line x1="618.5" y1="465" x2="618.5" y2="544" stroke="#222" stroke-width="1" />
<line x1="719.5" y1="465" x2="719.5" y2="544" stroke="#222" stroke-width="1" />
<line x1="752.5" y1="465" x2="752.5" y2="583" stroke="#222" stroke-width="1" />
<line x1="669.5" y1="469" x2="669.5" y2="637.2" stroke="#222" stroke-width="1" />
<g transform="translate(3.2,428.1)">
<g transform="translate(0,1.9)">
<path d="M643.4,90 L640.7,58 Q640.7,53.3 645,53.3 L688,53.3 Q692.3,53.3 692.3,58 L689.6,90" stroke="#222" stroke-width="1.8" fill="none" />
<rect x="641.5" y="53.3" width="50" height="3.8" stroke="#222" stroke-width="0" fill="#222" />
<line x1="640.7" y1="62.5" x2="692.3" y2="62.5" stroke="#222" stroke-width="1.0" />
<line x1="650.8" y1="62.5" x2="651.5" y2="87" stroke="#222" stroke-width="0.9" />
<line x1="683" y1="62.5" x2="682.5" y2="87" stroke="#222" stroke-width="0.9" />
<line x1="658.5" y1="80" x2="658.5" y2="87.5" stroke="#222" stroke-width="1.7" />
<line x1="664" y1="80" x2="664" y2="87.5" stroke="#222" stroke-width="1.7" />
<line x1="669.5" y1="80" x2="669.5" y2="87.5" stroke="#222" stroke-width="1.7" />
<line x1="675" y1="80" x2="675" y2="87.5" stroke="#222" stroke-width="1.7" />
<line x1="651" y1="87.5" x2="682" y2="87.5" stroke="#222" stroke-width="1.0" />
<path d="M692.3,65 L704,65 Q712.5,65 712.5,73.8 Q712.5,82.8 704,82.8 L692.3,82.8" stroke="#222" stroke-width="1.5" fill="none" />
<path d="M696,67 L696,81 M700,65.5 L700,82.5 M704,65 L704,82.8" stroke="#222" stroke-width="0.9" fill="none" />
<line x1="692.3" y1="69.5" x2="706" y2="69.5" stroke="#222" stroke-width="0.7" />
<line x1="692.3" y1="78.5" x2="706" y2="78.5" stroke="#222" stroke-width="0.7" />
</g>
<path d="M643.08,86.34 A43,43 0 0 0 623.53,123.90" stroke="#222" stroke-width="2.6" fill="none" />
<path d="M634.28,108.72 A35,35 0 0 0 631.52,123.62" stroke="#222" stroke-width="1.0" fill="none" />
<line x1="634" y1="106.7" x2="626.4686372952406" y2="106.7" stroke="#222" stroke-width="2.2" />
<line x1="632.9589803375031" y1="112.4" x2="624.6789526673471" y2="112.4" stroke="#222" stroke-width="2.2" />
<line x1="631.7776728890473" y1="118" x2="623.7257086557825" y2="118" stroke="#222" stroke-width="2.2" />
<line x1="631.5172899849083" y1="123.5" x2="623.5140720700367" y2="123.5" stroke="#222" stroke-width="2.2" />
<path d="M689.92,86.34 A43,43 0 0 1 709.47,123.90" stroke="#222" stroke-width="2.6" fill="none" />
<path d="M698.72,108.72 A35,35 0 0 1 701.48,123.62" stroke="#222" stroke-width="1.0" fill="none" />
<line x1="699" y1="106.7" x2="706.5313627047594" y2="106.7" stroke="#222" stroke-width="2.2" />
<line x1="700.0410196624969" y1="112.4" x2="708.3210473326529" y2="112.4" stroke="#222" stroke-width="2.2" />
<line x1="701.2223271109527" y1="118" x2="709.2742913442175" y2="118" stroke="#222" stroke-width="2.2" />
<line x1="701.4827100150917" y1="123.5" x2="709.4859279299633" y2="123.5" stroke="#222" stroke-width="2.2" />
<path d="M644,97 Q666.5,80 689,97" stroke="#222" stroke-width="1.4" fill="none" />
<path d="M648,95 Q666.5,83.5 685,95" stroke="#222" stroke-width="0.8" fill="none" />
<line x1="643.3" y1="80" x2="643.3" y2="93" stroke="#222" stroke-width="2" />
<line x1="689.7" y1="80" x2="689.7" y2="93" stroke="#222" stroke-width="2" />
<line x1="644.6" y1="98.5" x2="688.4" y2="98.5" stroke="#222" stroke-width="1.2" />
<line x1="644.5" y1="98.2" x2="644.5" y2="180.4" stroke="#222" stroke-width="1.2" />
<line x1="688.5" y1="98.2" x2="688.5" y2="180.4" stroke="#222" stroke-width="1.2" />
<circle cx="666.5" cy="122.4" r="19" stroke="#222" stroke-width="1.6" fill="none" />
<circle cx="666.5" cy="122.4" r="15.8" stroke="#222" stroke-width="1.0" fill="none" />
<line x1="646" y1="122.5" x2="687" y2="122.5" stroke="#222" stroke-width="0.8" stroke-dasharray="8,2,1.5,2"/>
<circle cx="651.8" cy="107.1" r="3.8" stroke="#222" stroke-width="1.4" fill="none" />
<circle cx="651.8" cy="107.1" r="2.4" stroke="#222" stroke-width="0.8" fill="none" />
<circle cx="681.2" cy="107.1" r="3.8" stroke="#222" stroke-width="1.4" fill="none" />
<circle cx="681.2" cy="107.1" r="2.4" stroke="#222" stroke-width="0.8" fill="none" />
<circle cx="651.8" cy="136.7" r="3.8" stroke="#222" stroke-width="1.4" fill="none" />
<circle cx="651.8" cy="136.7" r="2.4" stroke="#222" stroke-width="0.8" fill="none" />
<circle cx="681.2" cy="136.7" r="3.8" stroke="#222" stroke-width="1.4" fill="none" />
<circle cx="681.2" cy="136.7" r="2.4" stroke="#222" stroke-width="0.8" fill="none" />
<path d="M651,141.5 Q647.5,144 648.5,147.5 Q650,150 653,149" stroke="#222" stroke-width="1.4" fill="none" />
<path d="M682,141.5 Q685.5,144 684.5,147.5 Q683,150 680,149" stroke="#222" stroke-width="1.4" fill="none" />
<line x1="653" y1="149" x2="650" y2="170" stroke="#222" stroke-width="1" />
<line x1="680" y1="149" x2="683" y2="170" stroke="#222" stroke-width="1" />
<rect x="634.0" y="97.4" width="10.1" height="27.9" stroke="#222" stroke-width="1.2" fill="none" />
<rect x="635.6" y="100.2" width="5.7" height="5.7" stroke="#222" stroke-width="1.3" fill="none" rx="1.2"/>
<rect x="635.6" y="116.4" width="5.7" height="6.5" stroke="#222" stroke-width="1.3" fill="none" rx="1.2"/>
<circle cx="638.5" cy="111.6" r="2.5" stroke="#222" stroke-width="1" fill="none" />
<line x1="635.5" y1="111.5" x2="641.5" y2="111.5" stroke="#222" stroke-width="0.7" />
<line x1="638.5" y1="106" x2="638.5" y2="116.4" stroke="#222" stroke-width="0.7" />
<rect x="634.0" y="180.4" width="10.1" height="27.4" stroke="#222" stroke-width="1.2" fill="none" />
<rect x="635.6" y="183.2" width="5.7" height="5.5" stroke="#222" stroke-width="1.3" fill="none" rx="1.2"/>
<rect x="635.6" y="198.8" width="5.7" height="6.5" stroke="#222" stroke-width="1.3" fill="none" rx="1.2"/>
<circle cx="638.5" cy="193.9" r="2.5" stroke="#222" stroke-width="1" fill="none" />
<line x1="635.5" y1="193.5" x2="641.5" y2="193.5" stroke="#222" stroke-width="0.7" />
<line x1="638.5" y1="188.7" x2="638.5" y2="198.8" stroke="#222" stroke-width="0.7" />
<rect x="689.0" y="97.4" width="10.1" height="27.9" stroke="#222" stroke-width="1.2" fill="none" />
<rect x="690.6" y="100.2" width="5.7" height="5.7" stroke="#222" stroke-width="1.3" fill="none" rx="1.2"/>
<rect x="690.6" y="116.4" width="5.7" height="6.5" stroke="#222" stroke-width="1.3" fill="none" rx="1.2"/>
<circle cx="693.5" cy="111.6" r="2.5" stroke="#222" stroke-width="1" fill="none" />
<line x1="690.5" y1="111.5" x2="696.5" y2="111.5" stroke="#222" stroke-width="0.7" />
<line x1="693.5" y1="106" x2="693.5" y2="116.4" stroke="#222" stroke-width="0.7" />
<rect x="689.0" y="180.4" width="10.1" height="27.4" stroke="#222" stroke-width="1.2" fill="none" />
<rect x="690.6" y="183.2" width="5.7" height="5.5" stroke="#222" stroke-width="1.3" fill="none" rx="1.2"/>
<rect x="690.6" y="198.8" width="5.7" height="6.5" stroke="#222" stroke-width="1.3" fill="none" rx="1.2"/>
<circle cx="693.5" cy="193.9" r="2.5" stroke="#222" stroke-width="1" fill="none" />
<line x1="690.5" y1="193.5" x2="696.5" y2="193.5" stroke="#222" stroke-width="0.7" />
<line x1="693.5" y1="188.7" x2="693.5" y2="198.8" stroke="#222" stroke-width="0.7" />
<line x1="633.6" y1="125.3" x2="633.6" y2="214" stroke="#222" stroke-width="1.4" />
<line x1="699.3" y1="125.3" x2="699.3" y2="214" stroke="#222" stroke-width="1.4" />
<line x1="643.5" y1="125.3" x2="643.5" y2="180.4" stroke="#222" stroke-width="1.0" />
<line x1="690.5" y1="125.3" x2="690.5" y2="180.4" stroke="#222" stroke-width="1.0" />
<path d="M635,128 Q641,152 635,178" stroke="#222" stroke-width="1.0" fill="none" />
<path d="M698,128 Q692,152 698,178" stroke="#222" stroke-width="1.0" fill="none" />
<line x1="655.4" y1="158" x2="655.4" y2="207" stroke="#222" stroke-width="2.0" />
<line x1="663.7" y1="158" x2="663.7" y2="207" stroke="#222" stroke-width="2.0" />
<line x1="671" y1="158" x2="671" y2="207" stroke="#222" stroke-width="2.0" />
<line x1="678.4" y1="158" x2="678.4" y2="207" stroke="#222" stroke-width="2.0" />
<rect x="648" y="158" width="4.5" height="49" stroke="#222" stroke-width="0.9" fill="none" />
<rect x="681" y="158" width="4.5" height="49" stroke="#222" stroke-width="0.9" fill="none" />
<rect x="648.5" y="170" width="3.5" height="8" stroke="#222" stroke-width="0.9" fill="none" />
<rect x="681.5" y="170" width="3.5" height="8" stroke="#222" stroke-width="0.9" fill="none" />
<path d="M644.1,207.5 L650,201 L683,201 L689,207.5" stroke="#222" stroke-width="1.5" fill="none" />
<line x1="633.6" y1="207.5" x2="699.3" y2="207.5" stroke="#222" stroke-width="1.4" />
</g>
<path d="M720.90,544.70 L714.60,544.70 L714.60,635.40 L720.90,635.40 L720.90,626.00 L723.10,626.00 L723.10,606.00 L720.90,602.00 L720.90,578.00 L723.10,574.00 L723.10,553.90 L720.90,553.90 Z" stroke="#222" stroke-width="1.6" fill="none" />
<line x1="713.5" y1="544.7" x2="713.5" y2="623" stroke="#222" stroke-width="1.0" />
<rect x="711.4000000000001" y="541.8" width="3.2" height="11.4" stroke="#222" stroke-width="0" fill="#222" />
<path d="M618.50,544.70 L624.80,544.70 L624.80,635.40 L618.50,635.40 L618.50,626.00 L616.30,626.00 L616.30,606.00 L618.50,602.00 L618.50,578.00 L616.30,574.00 L616.30,553.90 L618.50,553.90 Z" stroke="#222" stroke-width="1.6" fill="none" />
<line x1="625.5" y1="544.7" x2="625.5" y2="623" stroke="#222" stroke-width="1.0" />
<rect x="624.8" y="541.8" width="3.2" height="11.4" stroke="#222" stroke-width="0" fill="#222" />
<rect x="587.4" y="582.45" width="28.899999999999977" height="15.5" stroke="#222" stroke-width="2" fill="none" />
<path d="M592.4,587.6 L611.3,587.6 M592.4,592.8000000000001 L611.3,592.8000000000001" stroke="#222" stroke-width="1" fill="none" />
<circle cx="592.4" cy="590.2" r="2.6" stroke="#222" stroke-width="1" fill="none" />
<circle cx="611.3" cy="590.2" r="2.6" stroke="#222" stroke-width="1" fill="none" />
<line x1="592.4" y1="590.5" x2="611.3" y2="590.5" stroke="#222" stroke-width="0.8" stroke-dasharray="3,1.5"/>
<rect x="723.1" y="582.45" width="28.899999999999977" height="15.5" stroke="#222" stroke-width="2" fill="none" />
<path d="M728.1,587.6 L747,587.6 M728.1,592.8000000000001 L747,592.8000000000001" stroke="#222" stroke-width="1" fill="none" />
<circle cx="728.1" cy="590.2" r="2.6" stroke="#222" stroke-width="1" fill="none" />
<circle cx="747" cy="590.2" r="2.6" stroke="#222" stroke-width="1" fill="none" />
<line x1="728.1" y1="590.5" x2="747" y2="590.5" stroke="#222" stroke-width="0.8" stroke-dasharray="3,1.5"/>
<line x1="583" y1="590.5" x2="587.4" y2="590.5" stroke="#222" stroke-width="0.8" />
<line x1="752" y1="590.5" x2="757" y2="590.5" stroke="#222" stroke-width="0.8" />
<line x1="571.5" y1="540" x2="571.5" y2="624" stroke="#222" stroke-width="1" />
<path d="M571.00,540.00 L572.80,547.00 L569.20,547.00 Z" fill="#222"/>
<path d="M571.00,624.00 L569.20,617.00 L572.80,617.00 Z" fill="#222"/>
<line x1="567" y1="540.5" x2="632" y2="540.5" stroke="#222" stroke-width="1" />
<line x1="567" y1="624.5" x2="636" y2="624.5" stroke="#222" stroke-width="1" />
<text x="592" y="649" font-size="12" font-weight="bold" font-style="normal" text-anchor="start" >Ø13</text>
<line x1="592" y1="651.5" x2="614" y2="651.5" stroke="#222" stroke-width="1" />
<line x1="614" y1="651.3" x2="636" y2="628" stroke="#222" stroke-width="1" />
<line x1="792.5" y1="540" x2="792.5" y2="590.2" stroke="#222" stroke-width="1" />
<path d="M792.00,540.00 L793.80,547.00 L790.20,547.00 Z" fill="#222"/>
<path d="M792.00,590.20 L790.20,583.20 L793.80,583.20 Z" fill="#222"/>
<line x1="775.5" y1="552" x2="775.5" y2="590.2" stroke="#222" stroke-width="1" />
<path d="M775.00,552.00 L776.80,559.00 L773.20,559.00 Z" fill="#222"/>
<path d="M775.00,590.20 L773.20,583.20 L776.80,583.20 Z" fill="#222"/>
<line x1="712" y1="540.5" x2="796" y2="540.5" stroke="#222" stroke-width="1" />
<line x1="700" y1="552.5" x2="779" y2="552.5" stroke="#222" stroke-width="1" />
<line x1="752" y1="590.5" x2="796" y2="590.5" stroke="#222" stroke-width="1" />
<line x1="764.5" y1="552" x2="764.5" y2="626" stroke="#222" stroke-width="1" />
<path d="M764.00,626.00 L762.20,619.00 L765.80,619.00 Z" fill="#222"/>
<line x1="722" y1="626.5" x2="768" y2="626.5" stroke="#222" stroke-width="1" />
<text x="735" y="613.5" font-size="12" font-weight="bold" font-style="normal" text-anchor="start" >3</text>
<line x1="708" y1="615.5" x2="739" y2="615.5" stroke="#222" stroke-width="1" />
<path d="M713.50,615.00 L708.50,616.40 L708.50,613.60 Z" fill="#222"/>
<path d="M722.00,615.00 L727.00,613.60 L727.00,616.40 Z" fill="#222"/>
<text x="733.5" y="642.7" font-size="12" font-weight="bold" font-style="normal" text-anchor="start" >12</text>
<line x1="703.5" y1="643.5" x2="752" y2="643.5" stroke="#222" stroke-width="1" />
<path d="M703.50,643.00 L698.50,644.40 L698.50,641.60 Z" fill="#222"/>
<path d="M722.00,643.00 L727.00,641.60 L727.00,644.40 Z" fill="#222"/>
<line x1="722.5" y1="634" x2="722.5" y2="647" stroke="#222" stroke-width="1" />
<text x="660" y="653" font-size="12" font-weight="bold" font-style="normal" text-anchor="start" >100</text>
<text x="660" y="669.5" font-size="12" font-weight="bold" font-style="normal" text-anchor="start" >120</text>
<line x1="640.5" y1="655.5" x2="699" y2="655.5" stroke="#222" stroke-width="1" />
<path d="M640.50,655.00 L647.50,653.20 L647.50,656.80 Z" fill="#222"/>
<path d="M699.00,655.00 L692.00,656.80 L692.00,653.20 Z" fill="#222"/>
<line x1="635.3" y1="672.5" x2="703.5" y2="672.5" stroke="#222" stroke-width="1" />
<path d="M635.30,672.00 L642.30,670.20 L642.30,673.80 Z" fill="#222"/>
<path d="M703.50,672.00 L696.50,673.80 L696.50,670.20 Z" fill="#222"/>
<line x1="640.5" y1="637" x2="640.5" y2="659" stroke="#222" stroke-width="1" />
<line x1="699.5" y1="637" x2="699.5" y2="659" stroke="#222" stroke-width="1" />
<line x1="635.5" y1="637" x2="635.5" y2="676" stroke="#222" stroke-width="1" />
<line x1="703.5" y1="637" x2="703.5" y2="676" stroke="#222" stroke-width="1" />
<g transform="translate(1.5,429.3)">
<text x="277" y="284.7" font-size="12" font-weight="bold" font-style="normal" text-anchor="start" >38</text>
<line x1="274" y1="286.5" x2="317" y2="286.5" stroke="#222" stroke-width="1" />
<line x1="291.5" y1="286.4" x2="291.5" y2="321.4" stroke="#222" stroke-width="1" />
<path d="M291.40,295.00 L290.10,290.00 L292.70,290.00 Z" fill="#222"/>
<path d="M291.40,303.50 L292.70,308.50 L290.10,308.50 Z" fill="#222"/>
<path d="M291.4,298.3 L297.5,298.3 M291.4,303.4 L297.5,303.4" stroke="#222" stroke-width="1"/>
<line x1="297.5" y1="286.4" x2="297.5" y2="303.4" stroke="#222" stroke-width="1" />
<line x1="314.5" y1="286.4" x2="314.5" y2="297" stroke="#222" stroke-width="1" />
<path d="M300.50,286.40 L305.00,285.20 L305.00,287.60 Z" fill="#222"/>
<path d="M311.20,286.40 L306.70,287.60 L306.70,285.20 Z" fill="#222"/>
<line x1="297.5" y1="286.4" x2="303" y2="293.8" stroke="#222" stroke-width="0.9" />
<circle cx="306.9" cy="299.8" r="7.3" stroke="#222" stroke-width="2.2" fill="none" />
<circle cx="306.9" cy="299.8" r="3.4" stroke="#222" stroke-width="0.9" fill="none" />
<line x1="299" y1="300.5" x2="314" y2="300.5" stroke="#222" stroke-width="1.0" />
<line x1="307.5" y1="292" x2="307.5" y2="307.5" stroke="#222" stroke-width="1.0" />
<line x1="302" y1="294.5" x2="312" y2="305" stroke="#222" stroke-width="0.8" />
<text x="277" y="318.3" font-size="12" font-weight="bold" font-style="normal" text-anchor="start" >10</text>
<line x1="277" y1="321.5" x2="291.4" y2="321.5" stroke="#222" stroke-width="1" />
<text x="323.4" y="320" font-size="12" font-weight="bold" font-style="normal" text-anchor="start" >M12</text>
<line x1="322" y1="321.5" x2="346.8" y2="321.5" stroke="#222" stroke-width="1" />
<line x1="322" y1="321.6" x2="311.4" y2="307" stroke="#222" stroke-width="1" />
</g>
<line x1="386" y1="729.5" x2="555" y2="729.5" stroke="#222" stroke-width="0.8" stroke-dasharray="8,2,1.5,2"/>
<rect x="388.4" y="721" width="32" height="16.7" stroke="#222" stroke-width="2" fill="none" />
<rect x="420.4" y="722.5" width="11" height="13.7" stroke="#222" stroke-width="1.2" fill="none" />
<rect x="521" y="721" width="32" height="16.7" stroke="#222" stroke-width="2" fill="none" />
<rect x="507.6" y="722.5" width="13.4" height="13.7" stroke="#222" stroke-width="1.2" fill="none" />
<path d="M431.4,715 L450,715 L452.5,712 L487.5,712 L490,715 L507.6,715 L507.6,743.4 L490,743.4 L487.5,746.4 L452.5,746.4 L450,743.4 L431.4,743.4 Z" stroke="#222" stroke-width="2" fill="none" />
<svg x="432.4" y="716" width="74.20000000000005" height="6" overflow="hidden">
<path d="M-6.00,6.00 L0.00,0 M-2.70,6.00 L3.30,0 M0.60,6.00 L6.60,0 M3.90,6.00 L9.90,0 M7.20,6.00 L13.20,0 M10.50,6.00 L16.50,0 M13.80,6.00 L19.80,0 M17.10,6.00 L23.10,0 M20.40,6.00 L26.40,0 M23.70,6.00 L29.70,0 M27.00,6.00 L33.00,0 M30.30,6.00 L36.30,0 M33.60,6.00 L39.60,0 M36.90,6.00 L42.90,0 M40.20,6.00 L46.20,0 M43.50,6.00 L49.50,0 M46.80,6.00 L52.80,0 M50.10,6.00 L56.10,0 M53.40,6.00 L59.40,0 M56.70,6.00 L62.70,0 M60.00,6.00 L66.00,0 M63.30,6.00 L69.30,0 M66.60,6.00 L72.60,0 M69.90,6.00 L75.90,0 M73.20,6.00 L79.20,0 " stroke="#222" stroke-width="1.25"/>
</svg>
<svg x="432.4" y="737" width="74.20000000000005" height="5.399999999999977" overflow="hidden">
<path d="M-5.40,5.40 L0.00,0 M-2.10,5.40 L3.30,0 M1.20,5.40 L6.60,0 M4.50,5.40 L9.90,0 M7.80,5.40 L13.20,0 M11.10,5.40 L16.50,0 M14.40,5.40 L19.80,0 M17.70,5.40 L23.10,0 M21.00,5.40 L26.40,0 M24.30,5.40 L29.70,0 M27.60,5.40 L33.00,0 M30.90,5.40 L36.30,0 M34.20,5.40 L39.60,0 M37.50,5.40 L42.90,0 M40.80,5.40 L46.20,0 M44.10,5.40 L49.50,0 M47.40,5.40 L52.80,0 M50.70,5.40 L56.10,0 M54.00,5.40 L59.40,0 M57.30,5.40 L62.70,0 M60.60,5.40 L66.00,0 M63.90,5.40 L69.30,0 M67.20,5.40 L72.60,0 M70.50,5.40 L75.90,0 M73.80,5.40 L79.20,0 " stroke="#222" stroke-width="1.25"/>
</svg>
<line x1="431.4" y1="722" x2="507.6" y2="722" stroke="#222" stroke-width="1.5" />
<line x1="431.4" y1="737" x2="507.6" y2="737" stroke="#222" stroke-width="1.5" />
<line x1="431.4" y1="715" x2="431.4" y2="743.4" stroke="#222" stroke-width="2.2" />
<line x1="507.6" y1="715" x2="507.6" y2="743.4" stroke="#222" stroke-width="2.2" />
<path d="M394.0,725.6 L414.5,725.6 Q417,725.6 417,729.3 Q417,733 414.5,733 L394.0,733 Q391.5,733 391.5,729.3 Q391.5,725.6 394.0,725.6 Z" stroke="#222" stroke-width="1.2" fill="none" />
<path d="M438.0,725.6 L457.5,725.6 Q460,725.6 460,729.3 Q460,733 457.5,733 L438.0,733 Q435.5,733 435.5,729.3 Q435.5,725.6 438.0,725.6 Z" stroke="#222" stroke-width="1.2" fill="none" />
<path d="M482.5,725.6 L502.5,725.6 Q505,725.6 505,729.3 Q505,733 502.5,733 L482.5,733 Q480,733 480,729.3 Q480,725.6 482.5,725.6 Z" stroke="#222" stroke-width="1.2" fill="none" />
<path d="M526.5,725.6 L547.5,725.6 Q550,725.6 550,729.3 Q550,733 547.5,733 L526.5,733 Q524,733 524,729.3 Q524,725.6 526.5,725.6 Z" stroke="#222" stroke-width="1.2" fill="none" />
<line x1="454.5" y1="722" x2="454.5" y2="737" stroke="#222" stroke-width="0.8" />
<line x1="486.5" y1="722" x2="486.5" y2="737" stroke="#222" stroke-width="0.8" />
<text x="376.5" y="708" font-size="12" font-weight="bold" font-style="normal" text-anchor="start" >35</text>
<text x="388" y="692.5" font-size="8.5" font-weight="bold" font-style="normal" text-anchor="start" >-0.01</text>
<text x="388" y="698.5" font-size="8.5" font-weight="bold" font-style="normal" text-anchor="start" >-0.02</text>
<line x1="375.4" y1="710.5" x2="392" y2="710.5" stroke="#222" stroke-width="1" />
<line x1="375.5" y1="710" x2="375.5" y2="750" stroke="#222" stroke-width="1" />
<path d="M375.40,721.00 L373.60,714.00 L377.20,714.00 Z" fill="#222"/>
<path d="M375.40,737.70 L377.20,744.70 L373.60,744.70 Z" fill="#222"/>
<line x1="372" y1="721.5" x2="388.4" y2="721.5" stroke="#222" stroke-width="0.8" />
<line x1="372" y1="737.5" x2="388.4" y2="737.5" stroke="#222" stroke-width="0.8" />
<text x="563.5" y="708" font-size="12" font-weight="bold" font-style="normal" text-anchor="start" >35</text>
<text x="575" y="692.5" font-size="8.5" font-weight="bold" font-style="normal" text-anchor="start" >-0.01</text>
<text x="575" y="698.5" font-size="8.5" font-weight="bold" font-style="normal" text-anchor="start" >-0.02</text>
<line x1="562.5" y1="710.5" x2="578" y2="710.5" stroke="#222" stroke-width="1" />
<line x1="562.5" y1="710" x2="562.5" y2="750" stroke="#222" stroke-width="1" />
<path d="M562.50,721.00 L560.70,714.00 L564.30,714.00 Z" fill="#222"/>
<path d="M562.50,737.70 L564.30,744.70 L560.70,744.70 Z" fill="#222"/>
<line x1="553" y1="721.5" x2="566" y2="721.5" stroke="#222" stroke-width="0.8" />
<line x1="553" y1="737.5" x2="566" y2="737.5" stroke="#222" stroke-width="0.8" />
<text x="397" y="751.5" font-size="12" font-weight="bold" font-style="normal" text-anchor="start" >65</text>
<text x="527" y="751.5" font-size="12" font-weight="bold" font-style="normal" text-anchor="start" >65</text>
<line x1="388.4" y1="753.5" x2="420.4" y2="753.5" stroke="#222" stroke-width="1" />
<path d="M388.40,753.70 L395.40,751.90 L395.40,755.50 Z" fill="#222"/>
<path d="M420.40,753.70 L413.40,755.50 L413.40,751.90 Z" fill="#222"/>
<line x1="521" y1="753.5" x2="553" y2="753.5" stroke="#222" stroke-width="1" />
<path d="M521.00,753.70 L528.00,751.90 L528.00,755.50 Z" fill="#222"/>
<path d="M553.00,753.70 L546.00,755.50 L546.00,751.90 Z" fill="#222"/>
<text x="394.5" y="768.5" font-size="12" font-weight="bold" font-style="normal" text-anchor="start" >103.5</text>
<text x="460" y="768.5" font-size="12" font-weight="bold" font-style="normal" text-anchor="start" >133</text>
<text x="512" y="768.5" font-size="12" font-weight="bold" font-style="normal" text-anchor="start" >103.5</text>
<line x1="388.4" y1="771.5" x2="431.4" y2="771.5" stroke="#222" stroke-width="1" />
<path d="M388.40,771.00 L395.40,769.20 L395.40,772.80 Z" fill="#222"/>
<path d="M431.40,771.00 L424.40,772.80 L424.40,769.20 Z" fill="#222"/>
<line x1="431.4" y1="771.5" x2="507.6" y2="771.5" stroke="#222" stroke-width="1" />
<path d="M431.40,771.00 L438.40,769.20 L438.40,772.80 Z" fill="#222"/>
<path d="M507.60,771.00 L500.60,772.80 L500.60,769.20 Z" fill="#222"/>
<line x1="507.6" y1="771.5" x2="553" y2="771.5" stroke="#222" stroke-width="1" />
<path d="M507.60,771.00 L514.60,769.20 L514.60,772.80 Z" fill="#222"/>
<path d="M553.00,771.00 L546.00,772.80 L546.00,769.20 Z" fill="#222"/>
<line x1="388.5" y1="737.7" x2="388.5" y2="775" stroke="#222" stroke-width="1" />
<line x1="420.5" y1="737.7" x2="420.5" y2="757" stroke="#222" stroke-width="1" />
<line x1="431.5" y1="737.7" x2="431.5" y2="775" stroke="#222" stroke-width="1" />
<line x1="507.5" y1="737.7" x2="507.5" y2="775" stroke="#222" stroke-width="1" />
<line x1="521.5" y1="737.7" x2="521.5" y2="757" stroke="#222" stroke-width="1" />
<line x1="553.5" y1="737.7" x2="553.5" y2="775" stroke="#222" stroke-width="1" />
<rect x="107.2" y="840.2" width="268.3" height="24.899999999999977" fill="#d9d9d9"/>
<rect x="107.2" y="840.2" width="55.10000000000001" height="116.09999999999991" fill="#d9d9d9"/>
<line x1="107.2" y1="840.2" x2="107.2" y2="956.3" stroke="#111" stroke-width="1.5" />
<line x1="162.3" y1="840.2" x2="162.3" y2="956.3" stroke="#111" stroke-width="1.5" />
<line x1="205.3" y1="840.2" x2="205.3" y2="956.3" stroke="#111" stroke-width="1.5" />
<line x1="247.2" y1="840.2" x2="247.2" y2="956.3" stroke="#111" stroke-width="1.5" />
<line x1="290.4" y1="840.2" x2="290.4" y2="956.3" stroke="#111" stroke-width="1.5" />
<line x1="332.5" y1="840.2" x2="332.5" y2="956.3" stroke="#111" stroke-width="1.5" />
<line x1="375.5" y1="840.2" x2="375.5" y2="956.3" stroke="#111" stroke-width="1.5" />
<line x1="106.45" y1="840.2" x2="376.25" y2="840.2" stroke="#111" stroke-width="1.5" />
<line x1="106.45" y1="865.1" x2="376.25" y2="865.1" stroke="#111" stroke-width="1.5" />
<line x1="106.45" y1="888.7" x2="376.25" y2="888.7" stroke="#111" stroke-width="1.5" />
<line x1="106.45" y1="912.4" x2="376.25" y2="912.4" stroke="#111" stroke-width="1.5" />
<line x1="106.45" y1="935.6" x2="376.25" y2="935.6" stroke="#111" stroke-width="1.5" />
<line x1="106.45" y1="956.3" x2="376.25" y2="956.3" stroke="#111" stroke-width="1.5" />
<text x="134.75" y="858.2" font-size="12" font-weight="bold" font-style="normal" text-anchor="middle" >IEC B14</text>
<text x="183.8" y="858.2" font-size="12" font-weight="bold" font-style="normal" text-anchor="middle" >80</text>
<text x="226.25" y="858.2" font-size="12" font-weight="bold" font-style="normal" text-anchor="middle" >90S</text>
<text x="268.79999999999995" y="858.2" font-size="12" font-weight="bold" font-style="normal" text-anchor="middle" >90L</text>
<text x="311.45" y="858.2" font-size="12" font-weight="bold" font-style="normal" text-anchor="middle" >100L</text>
<text x="354.0" y="858.2" font-size="12" font-weight="bold" font-style="normal" text-anchor="middle" >112M</text>
<text x="134.75" y="881.8" font-size="12" font-weight="bold" font-style="normal" text-anchor="middle" >k</text>
<text x="183.8" y="881.8" font-size="12" font-weight="normal" font-style="normal" text-anchor="middle" >457,5</text>
<text x="226.25" y="881.8" font-size="12" font-weight="normal" font-style="normal" text-anchor="middle" >477,5</text>
<text x="268.79999999999995" y="881.8" font-size="12" font-weight="normal" font-style="normal" text-anchor="middle" >502,5</text>
<text x="311.45" y="881.8" font-size="12" font-weight="normal" font-style="normal" text-anchor="middle" >534,5</text>
<text x="354.0" y="881.8" font-size="12" font-weight="normal" font-style="normal" text-anchor="middle" >554,5</text>
<text x="134.75" y="904.7" font-size="12" font-weight="bold" font-style="normal" text-anchor="middle" >k1</text>
<text x="183.8" y="904.7" font-size="12" font-weight="normal" font-style="normal" text-anchor="middle" >577,5</text>
<text x="226.25" y="904.7" font-size="12" font-weight="normal" font-style="normal" text-anchor="middle" >602,5</text>
<text x="268.79999999999995" y="904.7" font-size="12" font-weight="normal" font-style="normal" text-anchor="middle" >627,5</text>
<text x="311.45" y="904.7" font-size="12" font-weight="normal" font-style="normal" text-anchor="middle" >669,5</text>
<text x="354.0" y="904.7" font-size="12" font-weight="normal" font-style="normal" text-anchor="middle" >689,5</text>
<text x="134.75" y="927.9" font-size="12" font-weight="bold" font-style="normal" text-anchor="middle" >n</text>
<text x="183.8" y="927.9" font-size="12" font-weight="normal" font-style="normal" text-anchor="middle" >156</text>
<text x="226.25" y="927.9" font-size="12" font-weight="normal" font-style="normal" text-anchor="middle" >176</text>
<text x="268.79999999999995" y="927.9" font-size="12" font-weight="normal" font-style="normal" text-anchor="middle" >176</text>
<text x="311.45" y="927.9" font-size="12" font-weight="normal" font-style="normal" text-anchor="middle" >194</text>
<text x="354.0" y="927.9" font-size="12" font-weight="normal" font-style="normal" text-anchor="middle" >218</text>
<text x="134.75" y="950.2" font-size="12" font-weight="bold" font-style="normal" text-anchor="middle" >n1</text>
<text x="183.8" y="950.2" font-size="12" font-weight="normal" font-style="normal" text-anchor="middle" >118</text>
<text x="226.25" y="950.2" font-size="12" font-weight="normal" font-style="normal" text-anchor="middle" >126</text>
<text x="268.79999999999995" y="950.2" font-size="12" font-weight="normal" font-style="normal" text-anchor="middle" >126</text>
<text x="311.45" y="950.2" font-size="12" font-weight="normal" font-style="normal" text-anchor="middle" >135</text>
<text x="354.0" y="950.2" font-size="12" font-weight="normal" font-style="normal" text-anchor="middle" >146</text>
<text x="433.1" y="847" font-size="10" font-weight="bold" font-style="normal" text-anchor="start" textLength="309" lengthAdjust="spacingAndGlyphs">Klemens Pozisyonları <tspan font-weight="normal" font-size="13">/</tspan> <tspan font-style="italic" font-weight="normal">Terminal Box Positions</tspan> <tspan font-weight="normal"><tspan font-size="13">/</tspan> Klemmenkasten</tspan></text>
<g transform="translate(521.4,897.7)">
<g transform="rotate(0)">
<path d="M-11,-15 L-11,-25.5 L11,-25.5 L11,-15" stroke="#222" stroke-width="2.2" fill="none" />
<line x1="-11" y1="-23.5" x2="11" y2="-23.5" stroke="#222" stroke-width="0.8" />
<line x1="-6.5" y1="-23.8" x2="-6.5" y2="-14" stroke="#222" stroke-width="1.0" />
<line x1="7.5" y1="-23.8" x2="7.5" y2="-14" stroke="#222" stroke-width="1.0" />
</g>
<g transform="rotate(90)">
<path d="M-11,-15 L-11,-25.5 L11,-25.5 L11,-15" stroke="#222" stroke-width="2.2" fill="none" />
<line x1="-11" y1="-23.5" x2="11" y2="-23.5" stroke="#222" stroke-width="0.8" />
<line x1="-6.5" y1="-23.8" x2="-6.5" y2="-14" stroke="#222" stroke-width="1.0" />
<line x1="7.5" y1="-23.8" x2="7.5" y2="-14" stroke="#222" stroke-width="1.0" />
</g>
<g transform="rotate(270)">
<path d="M-11,-15 L-11,-25.5 L11,-25.5 L11,-15" stroke="#222" stroke-width="2.2" fill="none" />
<line x1="-11" y1="-23.5" x2="11" y2="-23.5" stroke="#222" stroke-width="0.8" />
<line x1="-6.5" y1="-23.8" x2="-6.5" y2="-14" stroke="#222" stroke-width="1.0" />
<line x1="7.5" y1="-23.8" x2="7.5" y2="-14" stroke="#222" stroke-width="1.0" />
</g>
<path d="M-13,11 L-13,22.5 L13,22.5 L13,11" stroke="#222" stroke-width="1.3" fill="none" />
<path d="M-8.5,12 L-8.5,22.5 M-6,12 L-6,22.5 M6,12 L6,22.5 M8.5,12 L8.5,22.5" stroke="#222" stroke-width="0.9" fill="none" />
<line x1="-10" y1="23.3" x2="10" y2="23.3" stroke="#222" stroke-width="2.4" />
<path d="M-12,22.5 L-12,30 L12,30 L12,22.5 M-8,30 L-8,28 L-5,28 L-5,30 M-2,30 L-2,28.5 L2,28.5 L2,30 M5,30 L5,28 L8,28 L8,30" stroke="#222" stroke-width="1.0" fill="none" />
<circle cx="0" cy="0" r="15.5" stroke="#222" stroke-width="1.9" fill="#fff" />
<circle cx="0" cy="0" r="12.2" stroke="#222" stroke-width="2.6" fill="none" />
<line x1="-25.5" y1="0.5" x2="25.5" y2="0.5" stroke="#222" stroke-width="0.8" />
<line x1="0.5" y1="-25.5" x2="0.5" y2="30" stroke="#222" stroke-width="0.8" />
</g>
<g transform="translate(648.7,909.8)">
<path d="M-11,18.4 L-11,29.8 L-7,29.8 L-7,28 L12.2,28 L12.2,29.8 L12.2,18.4" stroke="#222" stroke-width="1.2" fill="none" />
<path d="M-4,29.8 L-4,28.5 M-1,29.8 L-1,28.5 M2,29.8 L2,28.5 M5,29.8 L5,28.5" stroke="#222" stroke-width="1.0" fill="none" />
<g transform="rotate(30)">
<g transform="rotate(0)">
<path d="M-9.8,-13 L-9.8,-24.2 L9.8,-24.2 L9.8,-13" stroke="#222" stroke-width="2.8" fill="none" />
<line x1="-6.5" y1="-21.5" x2="6.5" y2="-21.5" stroke="#222" stroke-width="1.0" />
<line x1="-6.5" y1="-21.5" x2="-6.5" y2="-13" stroke="#222" stroke-width="1.0" />
<line x1="6.5" y1="-21.5" x2="6.5" y2="-13" stroke="#222" stroke-width="1.0" />
</g>
<g transform="rotate(90)">
<path d="M-9.8,-13 L-9.8,-24.2 L9.8,-24.2 L9.8,-13" stroke="#222" stroke-width="2.8" fill="none" />
<line x1="-6.5" y1="-21.5" x2="6.5" y2="-21.5" stroke="#222" stroke-width="1.0" />
<line x1="-6.5" y1="-21.5" x2="-6.5" y2="-13" stroke="#222" stroke-width="1.0" />
<line x1="6.5" y1="-21.5" x2="6.5" y2="-13" stroke="#222" stroke-width="1.0" />
</g>
<g transform="rotate(180)">
<path d="M-9.8,-13 L-9.8,-24.2 L9.8,-24.2 L9.8,-13" stroke="#222" stroke-width="2.8" fill="none" />
<line x1="-6.5" y1="-21.5" x2="6.5" y2="-21.5" stroke="#222" stroke-width="1.0" />
<line x1="-6.5" y1="-21.5" x2="-6.5" y2="-13" stroke="#222" stroke-width="1.0" />
<line x1="6.5" y1="-21.5" x2="6.5" y2="-13" stroke="#222" stroke-width="1.0" />
</g>
<g transform="rotate(270)">
<path d="M-9.8,-13 L-9.8,-24.2 L9.8,-24.2 L9.8,-13" stroke="#222" stroke-width="2.8" fill="none" />
<line x1="-6.5" y1="-21.5" x2="6.5" y2="-21.5" stroke="#222" stroke-width="1.0" />
<line x1="-6.5" y1="-21.5" x2="-6.5" y2="-13" stroke="#222" stroke-width="1.0" />
<line x1="6.5" y1="-21.5" x2="6.5" y2="-13" stroke="#222" stroke-width="1.0" />
</g>
</g>
<circle cx="0" cy="0" r="15.3" stroke="#222" stroke-width="2.0" fill="#fff" />
<circle cx="0" cy="0" r="11.8" stroke="#222" stroke-width="2.6" fill="none" />
<line x1="-15" y1="0.5" x2="15" y2="0.5" stroke="#222" stroke-width="0.8" />
<line x1="0.5" y1="-35.4" x2="0.5" y2="30" stroke="#222" stroke-width="0.8" />
<line x1="0" y1="0" x2="18.5" y2="-30.2" stroke="#222" stroke-width="0.8" />
<line x1="-4.4" y1="-35.5" x2="0" y2="-35.5" stroke="#222" stroke-width="0.8" />
<path d="M-4.4,-35.4 Q10,-35 20,-28.4" stroke="#222" stroke-width="1.0" fill="none" />
</g>
<text x="511" y="869" font-size="9.5" font-weight="bold" font-style="normal" text-anchor="start" >Poz. 1</text>
<text x="466.5" y="900.5" font-size="9.5" font-weight="bold" font-style="normal" text-anchor="start" >Poz. 4</text>
<text x="549.5" y="902" font-size="9.5" font-weight="bold" font-style="normal" text-anchor="start" >Poz. 2</text>
<text x="509" y="936.5" font-size="9.5" font-weight="bold" font-style="normal" text-anchor="start" >Poz. 3</text>
<text x="494.4" y="960" font-size="12.5" font-weight="bold" font-style="normal" text-anchor="start" textLength="60.2" lengthAdjust="spacingAndGlyphs">90-100-112</text>
<text x="520" y="974.5" font-size="12.5" font-weight="normal" font-style="normal" text-anchor="middle" stroke="#222" stroke-width="0.3">Tip / <tspan font-style="italic" font-size="10" stroke-width="0">Type</tspan> / Typ</text>
<text x="652.8" y="874" font-size="10.5" font-weight="bold" font-style="italic" text-anchor="start" >30°</text>
<text x="669" y="889.6" font-size="9.5" font-weight="bold" font-style="normal" text-anchor="start" >Poz. 2</text>
<text x="598.6" y="898" font-size="9.5" font-weight="bold" font-style="normal" text-anchor="start" >Poz. 1</text>
<text x="672" y="929" font-size="9.5" font-weight="bold" font-style="normal" text-anchor="start" >Poz. 3</text>
<text x="607.7" y="940.3" font-size="9.5" font-weight="bold" font-style="normal" text-anchor="start" >Poz. 4</text>
<text x="652.5" y="959" font-size="12.5" font-weight="normal" font-style="normal" text-anchor="middle" stroke="#222" stroke-width="0.35">80</text>
<text x="648" y="974" font-size="12.5" font-weight="normal" font-style="normal" text-anchor="middle" stroke="#222" stroke-width="0.3">Tip / <tspan font-style="italic" font-size="10" stroke-width="0">Type</tspan> / Typ</text>
<rect x="142.9" y="202.2" width="1.2" height="1.2" fill="#555"/>
<rect x="154.1" y="630.9" width="1.2" height="1.2" fill="#555"/>
<rect x="453.5" y="859.0" width="1.2" height="1.2" fill="#555"/>
<rect x="580.9" y="862.5" width="1.2" height="1.2" fill="#555"/>
<text x="210" y="156.6" font-size="12" font-weight="bold" font-style="normal" text-anchor="start" stroke="#fff" stroke-width="3" paint-order="stroke" stroke-linejoin="round" >226</text>
<text x="241" y="188.5" font-size="12" font-weight="bold" font-style="normal" text-anchor="start" stroke="#fff" stroke-width="3" paint-order="stroke" stroke-linejoin="round" >96</text>
<text x="467.3" y="103" font-size="12" font-weight="bold" font-style="normal" text-anchor="start" stroke="#fff" stroke-width="3" paint-order="stroke" stroke-linejoin="round" >n1</text>
<text x="483" y="145" font-size="12" font-weight="bold" font-style="normal" text-anchor="start" stroke="#fff" stroke-width="3" paint-order="stroke" stroke-linejoin="round" >n</text>
<text x="556.4" y="141" font-size="12" font-weight="bold" font-style="normal" text-anchor="start" stroke="#fff" stroke-width="3" paint-order="stroke" stroke-linejoin="round" >172</text>
<text x="571.7" y="165" font-size="12" font-weight="bold" font-style="normal" text-anchor="start" stroke="#fff" stroke-width="3" paint-order="stroke" stroke-linejoin="round" >Ø95</text>
<text x="744.8" y="145.5" font-size="12" font-weight="bold" font-style="normal" text-anchor="start" stroke="#fff" stroke-width="3" paint-order="stroke" stroke-linejoin="round" >80</text>
<text x="759" y="140.8" font-size="12" font-weight="bold" font-style="normal" text-anchor="start" stroke="#fff" stroke-width="3" paint-order="stroke" stroke-linejoin="round" >104</text>
<text x="210" y="587" font-size="12" font-weight="bold" font-style="normal" text-anchor="start" stroke="#fff" stroke-width="3" paint-order="stroke" stroke-linejoin="round" >226</text>
<text x="243" y="618.3" font-size="12" font-weight="bold" font-style="normal" text-anchor="start" stroke="#fff" stroke-width="3" paint-order="stroke" stroke-linejoin="round" >96</text>
<text x="469.5" y="533" font-size="12" font-weight="bold" font-style="normal" text-anchor="start" stroke="#fff" stroke-width="3" paint-order="stroke" stroke-linejoin="round" >n1</text>
<text x="485.5" y="575" font-size="12" font-weight="bold" font-style="normal" text-anchor="start" stroke="#fff" stroke-width="3" paint-order="stroke" stroke-linejoin="round" >n</text>
<text x="560" y="587.5" font-size="12" font-weight="bold" font-style="normal" text-anchor="start" stroke="#fff" stroke-width="3" paint-order="stroke" stroke-linejoin="round" >172</text>
<text x="781.7" y="566.6" font-size="12" font-weight="bold" font-style="normal" text-anchor="start" stroke="#fff" stroke-width="3" paint-order="stroke" stroke-linejoin="round" >104</text>
<text x="768.8" y="576.2" font-size="12" font-weight="bold" font-style="normal" text-anchor="start" stroke="#fff" stroke-width="3" paint-order="stroke" stroke-linejoin="round" >80</text>
<text x="750.4" y="612.6" font-size="12" font-weight="bold" font-style="normal" text-anchor="start" stroke="#fff" stroke-width="3" paint-order="stroke" stroke-linejoin="round" >Ø180</text>
</svg></body></html>
